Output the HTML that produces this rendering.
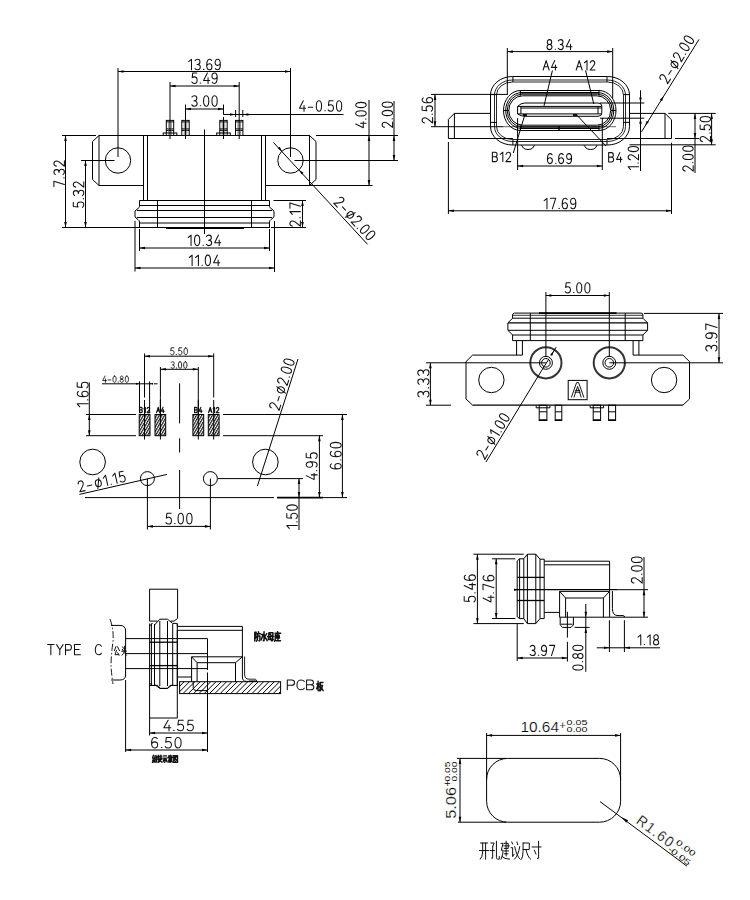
<!DOCTYPE html>
<html><head><meta charset="utf-8"><style>
html,body{margin:0;padding:0;background:#fff;width:750px;height:900px;overflow:hidden}
svg{display:block} .t path{vector-effect:non-scaling-stroke;stroke-linecap:round;stroke-linejoin:round}
</style></head><body>
<svg width="750" height="900" viewBox="0 0 750 900" fill="none" stroke="#000" stroke-width="1" stroke-linecap="butt" font-family="Liberation Sans, sans-serif">
<rect x="0" y="0" width="750" height="900" fill="#fff" stroke="none"/>
<line x1="62" y1="135.5" x2="96" y2="135.5"/>
<line x1="99" y1="135.5" x2="309.5" y2="135.5"/>
<line x1="316" y1="135.5" x2="398" y2="135.5"/>
<path d="M99,135.5 L92.5,141.5 L92.5,179.5 L99,185.5 L143.5,185.5"/>
<line x1="99" y1="135.5" x2="99" y2="185.5"/>
<path d="M309.5,135.5 L316,141.5 L316,179.5 L309.5,185.5 L265.5,185.5"/>
<line x1="309.5" y1="135.5" x2="309.5" y2="185.5"/>
<line x1="309.5" y1="185.5" x2="372.5" y2="185.5"/>
<line x1="143.5" y1="135.5" x2="143.5" y2="200.5"/>
<line x1="147.5" y1="135.5" x2="147.5" y2="200.5"/>
<line x1="261.5" y1="135.5" x2="261.5" y2="200.5"/>
<line x1="265.5" y1="135.5" x2="265.5" y2="200.5"/>
<circle cx="118" cy="160.5" r="12.7"/>
<circle cx="290.5" cy="160.5" r="12.7"/>
<line x1="118" y1="68" x2="118" y2="157"/>
<line x1="81" y1="160.5" x2="114.5" y2="160.5"/>
<line x1="290.5" y1="68" x2="290.5" y2="157"/>
<line x1="294.5" y1="160.5" x2="398" y2="160.5"/>
<line x1="204.5" y1="129.5" x2="204.5" y2="234"/>
<line x1="139.5" y1="200.5" x2="269.5" y2="200.5"/>
<path d="M139.5,200.5 V206.5 Q139.5,207.5 138,208.5 L136,210 Q135,211 135,212 V216 Q135,217 136,218 L138,219.5 Q139.5,220.5 139.5,222 V228"/>
<path d="M269.5,200.5 V206.5 Q269.5,207.5 271,208.5 L273,210 Q274,211 274,212 V216 Q274,217 273,218 L271,219.5 Q269.5,220.5 269.5,222 V228"/>
<line x1="139.5" y1="205.5" x2="269.5" y2="205.5"/>
<line x1="137" y1="210.5" x2="272" y2="210.5"/>
<line x1="137" y1="217.5" x2="272" y2="217.5"/>
<line x1="139.5" y1="223" x2="269.5" y2="223"/>
<line x1="139.5" y1="227.5" x2="269.5" y2="227.5"/>
<line x1="157.5" y1="200.5" x2="157.5" y2="228"/>
<line x1="251.5" y1="200.5" x2="251.5" y2="228"/>
<line x1="166" y1="228" x2="244" y2="228" stroke-width="2"/>
<line x1="62" y1="227.5" x2="139.5" y2="227.5"/>
<rect x="166.3" y="120.4" width="7.4" height="15.1"/>
<line x1="166.3" y1="121.9" x2="173.7" y2="121.9"/>
<line x1="166.3" y1="128.9" x2="173.7" y2="128.9"/>
<line x1="166.3" y1="130.4" x2="173.7" y2="130.4"/>
<line x1="168.75" y1="120.4" x2="168.75" y2="135.5" stroke-width="0.7" stroke="#555"/>
<line x1="171.25" y1="120.4" x2="171.25" y2="135.5" stroke-width="0.7" stroke="#555"/>
<rect x="163.2" y="133" width="13.6" height="2.5"/>
<line x1="170" y1="117" x2="170" y2="139"/>
<rect x="181.8" y="120.4" width="7.4" height="15.1"/>
<line x1="181.8" y1="121.9" x2="189.2" y2="121.9"/>
<line x1="181.8" y1="128.9" x2="189.2" y2="128.9"/>
<line x1="181.8" y1="130.4" x2="189.2" y2="130.4"/>
<line x1="184.25" y1="120.4" x2="184.25" y2="135.5" stroke-width="0.7" stroke="#555"/>
<line x1="186.75" y1="120.4" x2="186.75" y2="135.5" stroke-width="0.7" stroke="#555"/>
<line x1="185.5" y1="117" x2="185.5" y2="139"/>
<rect x="219.8" y="120.4" width="7.4" height="15.1"/>
<line x1="219.8" y1="121.9" x2="227.2" y2="121.9"/>
<line x1="219.8" y1="128.9" x2="227.2" y2="128.9"/>
<line x1="219.8" y1="130.4" x2="227.2" y2="130.4"/>
<line x1="222.25" y1="120.4" x2="222.25" y2="135.5" stroke-width="0.7" stroke="#555"/>
<line x1="224.75" y1="120.4" x2="224.75" y2="135.5" stroke-width="0.7" stroke="#555"/>
<rect x="216.7" y="133" width="13.6" height="2.5"/>
<line x1="223.5" y1="117" x2="223.5" y2="139"/>
<rect x="235.5" y="120.4" width="7.4" height="15.1"/>
<line x1="235.5" y1="121.9" x2="242.9" y2="121.9"/>
<line x1="235.5" y1="128.9" x2="242.9" y2="128.9"/>
<line x1="235.5" y1="130.4" x2="242.9" y2="130.4"/>
<line x1="237.95" y1="120.4" x2="237.95" y2="135.5" stroke-width="0.7" stroke="#555"/>
<line x1="240.45" y1="120.4" x2="240.45" y2="135.5" stroke-width="0.7" stroke="#555"/>
<line x1="239.2" y1="117" x2="239.2" y2="139"/>
<line x1="118" y1="71.5" x2="290.5" y2="71.5"/>
<path d="M118,71.5 L123.5,70.2 L123.5,72.8Z" fill="#000" stroke="none"/>
<path d="M290.5,71.5 L285,72.8 L285,70.2Z" fill="#000" stroke="none"/>
<g transform="translate(204.5,69.8) rotate(0) translate(-15.86,-10.5) scale(1.05,1.05)" stroke-width="1.05" stroke="#111" fill="none" class="t"><path transform="translate(0,0)" d="M0,2.3 L2.7,0 V10"/><path transform="translate(6,0)" d="M0.1,1.3 C0.6,0.4 1.5,0 2.5,0 C4,0 4.8,1.1 4.8,2.5 C4.8,4 3.9,4.9 2.1,4.9 C4.1,4.9 5.1,6 5.1,7.4 C5.1,9 4,10 2.5,10 C1.4,10 0.6,9.6 0,8.7"/><path transform="translate(14,0)" d="M0.1,9.6 L0.5,9.6"/><path transform="translate(17.2,0)" d="M4.7,1.1 C4.2,0.3 3.5,0 2.7,0 C0.8,0 0,2.4 0,5.4 C0,8.6 0.9,10 2.5,10 C4.2,10 5,8.6 5,7 C5,5.3 4.1,4.2 2.6,4.2 C1.2,4.2 0.3,5.1 0,6.4"/><path transform="translate(25.2,0)" d="M0.3,8.9 C0.8,9.7 1.5,10 2.3,10 C4.2,10 5,7.6 5,4.6 C5,1.4 4.1,0 2.5,0 C0.8,0 0,1.4 0,3 C0,4.7 0.9,5.8 2.4,5.8 C3.8,5.8 4.7,4.9 5,3.6"/></g>
<line x1="170" y1="82" x2="170" y2="117"/>
<line x1="239.2" y1="82" x2="239.2" y2="117"/>
<line x1="170" y1="86" x2="239.2" y2="86"/>
<path d="M170,86 L175.5,84.7 L175.5,87.3Z" fill="#000" stroke="none"/>
<path d="M239.2,86 L233.7,87.3 L233.7,84.7Z" fill="#000" stroke="none"/>
<g transform="translate(204.5,83.4) rotate(0) translate(-12.71,-10.5) scale(1.05,1.05)" stroke-width="1.05" stroke="#111" fill="none" class="t"><path transform="translate(0,0)" d="M4.8,0 H0.9 L0.4,4.6 C0.9,4.1 1.7,3.8 2.5,3.8 C4.2,3.8 5.1,5.2 5.1,6.9 C5.1,8.8 4,10 2.5,10 C1.4,10 0.6,9.6 0,8.7"/><path transform="translate(8,0)" d="M0.1,9.6 L0.5,9.6"/><path transform="translate(11.2,0)" d="M3.6,0 L0,7.2 H5.8 M4.3,4.6 V10"/><path transform="translate(19.2,0)" d="M0.3,8.9 C0.8,9.7 1.5,10 2.3,10 C4.2,10 5,7.6 5,4.6 C5,1.4 4.1,0 2.5,0 C0.8,0 0,1.4 0,3 C0,4.7 0.9,5.8 2.4,5.8 C3.8,5.8 4.7,4.9 5,3.6"/></g>
<line x1="185.5" y1="104.5" x2="185.5" y2="117"/>
<line x1="223.5" y1="104.5" x2="223.5" y2="114.5"/>
<line x1="185.5" y1="109" x2="223.5" y2="109"/>
<path d="M185.5,109 L191,107.7 L191,110.3Z" fill="#000" stroke="none"/>
<path d="M223.5,109 L218,110.3 L218,107.7Z" fill="#000" stroke="none"/>
<g transform="translate(204.5,106.2) rotate(0) translate(-12.71,-10.5) scale(1.05,1.05)" stroke-width="1.05" stroke="#111" fill="none" class="t"><path transform="translate(0,0)" d="M0.1,1.3 C0.6,0.4 1.5,0 2.5,0 C4,0 4.8,1.1 4.8,2.5 C4.8,4 3.9,4.9 2.1,4.9 C4.1,4.9 5.1,6 5.1,7.4 C5.1,9 4,10 2.5,10 C1.4,10 0.6,9.6 0,8.7"/><path transform="translate(8,0)" d="M0.1,9.6 L0.5,9.6"/><path transform="translate(11.2,0)" d="M2.5,0 C0.5,0 0,2.6 0,5 C0,7.4 0.5,10 2.5,10 C4.5,10 5,7.4 5,5 C5,2.6 4.5,0 2.5,0Z"/><path transform="translate(19.2,0)" d="M2.5,0 C0.5,0 0,2.6 0,5 C0,7.4 0.5,10 2.5,10 C4.5,10 5,7.4 5,5 C5,2.6 4.5,0 2.5,0Z"/></g>
<line x1="223.5" y1="114.5" x2="343.5" y2="114.5"/>
<path d="M235.6,114.5 L230.1,115.8 L230.1,113.2Z" fill="#000" stroke="none"/>
<path d="M242.8,114.5 L248.3,113.2 L248.3,115.8Z" fill="#000" stroke="none"/>
<line x1="235.6" y1="110" x2="235.6" y2="117"/>
<line x1="242.8" y1="110" x2="242.8" y2="117"/>
<g transform="translate(299.5,111.2) rotate(0) translate(0,-10.5) scale(1.05,1.05)" stroke-width="1.05" stroke="#111" fill="none" class="t"><path transform="translate(0,0)" d="M3.6,0 L0,7.2 H5.8 M4.3,4.6 V10"/><path transform="translate(8,0)" d="M0.3,6.2 H4.6"/><path transform="translate(16,0)" d="M2.5,0 C0.5,0 0,2.6 0,5 C0,7.4 0.5,10 2.5,10 C4.5,10 5,7.4 5,5 C5,2.6 4.5,0 2.5,0Z"/><path transform="translate(24,0)" d="M0.1,9.6 L0.5,9.6"/><path transform="translate(27.2,0)" d="M4.8,0 H0.9 L0.4,4.6 C0.9,4.1 1.7,3.8 2.5,3.8 C4.2,3.8 5.1,5.2 5.1,6.9 C5.1,8.8 4,10 2.5,10 C1.4,10 0.6,9.6 0,8.7"/><path transform="translate(35.2,0)" d="M2.5,0 C0.5,0 0,2.6 0,5 C0,7.4 0.5,10 2.5,10 C4.5,10 5,7.4 5,5 C5,2.6 4.5,0 2.5,0Z"/></g>
<line x1="369" y1="100" x2="369" y2="185.5"/>
<path d="M369,135.5 L370.3,141 L367.7,141Z" fill="#000" stroke="none"/>
<path d="M369,185.5 L367.7,180 L370.3,180Z" fill="#000" stroke="none"/>
<g transform="translate(366.2,127.8) rotate(-90) translate(0,-10.5) scale(1.05,1.05)" stroke-width="1.05" stroke="#111" fill="none" class="t"><path transform="translate(0,0)" d="M3.6,0 L0,7.2 H5.8 M4.3,4.6 V10"/><path transform="translate(8,0)" d="M0.1,9.6 L0.5,9.6"/><path transform="translate(11.2,0)" d="M2.5,0 C0.5,0 0,2.6 0,5 C0,7.4 0.5,10 2.5,10 C4.5,10 5,7.4 5,5 C5,2.6 4.5,0 2.5,0Z"/><path transform="translate(19.2,0)" d="M2.5,0 C0.5,0 0,2.6 0,5 C0,7.4 0.5,10 2.5,10 C4.5,10 5,7.4 5,5 C5,2.6 4.5,0 2.5,0Z"/></g>
<line x1="394" y1="101" x2="394" y2="160.5"/>
<path d="M394,135.5 L395.3,141 L392.7,141Z" fill="#000" stroke="none"/>
<path d="M394,160.5 L392.7,155 L395.3,155Z" fill="#000" stroke="none"/>
<g transform="translate(392.6,127.4) rotate(-90) translate(0,-10.5) scale(1.05,1.05)" stroke-width="1.05" stroke="#111" fill="none" class="t"><path transform="translate(0,0)" d="M0.1,2.3 C0.4,0.8 1.3,0 2.6,0 C4.1,0 5,1.1 5,2.6 C5,4.3 3.9,5.6 0,10 H5.2"/><path transform="translate(8,0)" d="M0.1,9.6 L0.5,9.6"/><path transform="translate(11.2,0)" d="M2.5,0 C0.5,0 0,2.6 0,5 C0,7.4 0.5,10 2.5,10 C4.5,10 5,7.4 5,5 C5,2.6 4.5,0 2.5,0Z"/><path transform="translate(19.2,0)" d="M2.5,0 C0.5,0 0,2.6 0,5 C0,7.4 0.5,10 2.5,10 C4.5,10 5,7.4 5,5 C5,2.6 4.5,0 2.5,0Z"/></g>
<line x1="65.5" y1="135.5" x2="65.5" y2="227.5"/>
<path d="M65.5,135.5 L66.8,141 L64.2,141Z" fill="#000" stroke="none"/>
<path d="M65.5,227.5 L64.2,222 L66.8,222Z" fill="#000" stroke="none"/>
<g transform="translate(64.4,186.4) rotate(-90) translate(0,-10.5) scale(1.05,1.05)" stroke-width="1.05" stroke="#111" fill="none" class="t"><path transform="translate(0,0)" d="M0,0 H5 L1.8,10"/><path transform="translate(8,0)" d="M0.1,9.6 L0.5,9.6"/><path transform="translate(11.2,0)" d="M0.1,1.3 C0.6,0.4 1.5,0 2.5,0 C4,0 4.8,1.1 4.8,2.5 C4.8,4 3.9,4.9 2.1,4.9 C4.1,4.9 5.1,6 5.1,7.4 C5.1,9 4,10 2.5,10 C1.4,10 0.6,9.6 0,8.7"/><path transform="translate(19.2,0)" d="M0.1,2.3 C0.4,0.8 1.3,0 2.6,0 C4.1,0 5,1.1 5,2.6 C5,4.3 3.9,5.6 0,10 H5.2"/></g>
<line x1="85.5" y1="160.5" x2="85.5" y2="227.5"/>
<path d="M85.5,160.5 L86.8,166 L84.2,166Z" fill="#000" stroke="none"/>
<path d="M85.5,227.5 L84.2,222 L86.8,222Z" fill="#000" stroke="none"/>
<g transform="translate(83.8,207.4) rotate(-90) translate(0,-10.5) scale(1.05,1.05)" stroke-width="1.05" stroke="#111" fill="none" class="t"><path transform="translate(0,0)" d="M4.8,0 H0.9 L0.4,4.6 C0.9,4.1 1.7,3.8 2.5,3.8 C4.2,3.8 5.1,5.2 5.1,6.9 C5.1,8.8 4,10 2.5,10 C1.4,10 0.6,9.6 0,8.7"/><path transform="translate(8,0)" d="M0.1,9.6 L0.5,9.6"/><path transform="translate(11.2,0)" d="M0.1,1.3 C0.6,0.4 1.5,0 2.5,0 C4,0 4.8,1.1 4.8,2.5 C4.8,4 3.9,4.9 2.1,4.9 C4.1,4.9 5.1,6 5.1,7.4 C5.1,9 4,10 2.5,10 C1.4,10 0.6,9.6 0,8.7"/><path transform="translate(19.2,0)" d="M0.1,2.3 C0.4,0.8 1.3,0 2.6,0 C4.1,0 5,1.1 5,2.6 C5,4.3 3.9,5.6 0,10 H5.2"/></g>
<line x1="273.5" y1="200.5" x2="306" y2="200.5"/>
<line x1="271" y1="227.5" x2="306" y2="227.5"/>
<line x1="302.5" y1="200.5" x2="302.5" y2="227.5"/>
<path d="M302.5,200.5 L303.8,206 L301.2,206Z" fill="#000" stroke="none"/>
<path d="M302.5,227.5 L301.2,222 L303.8,222Z" fill="#000" stroke="none"/>
<g transform="translate(300.4,226.2) rotate(-90) translate(0,-10.5) scale(1.05,1.05)" stroke-width="1.05" stroke="#111" fill="none" class="t"><path transform="translate(0,0)" d="M0.1,2.3 C0.4,0.8 1.3,0 2.6,0 C4.1,0 5,1.1 5,2.6 C5,4.3 3.9,5.6 0,10 H5.2"/><path transform="translate(8,0)" d="M0.1,9.6 L0.5,9.6"/><path transform="translate(11.2,0)" d="M0,2.3 L2.7,0 V10"/><path transform="translate(17.2,0)" d="M0,0 H5 L1.8,10"/></g>
<line x1="139.5" y1="229" x2="139.5" y2="251"/>
<line x1="269.5" y1="229" x2="269.5" y2="251"/>
<line x1="139.5" y1="248" x2="269.5" y2="248"/>
<path d="M139.5,248 L145,246.7 L145,249.3Z" fill="#000" stroke="none"/>
<path d="M269.5,248 L264,249.3 L264,246.7Z" fill="#000" stroke="none"/>
<g transform="translate(204.5,245.6) rotate(0) translate(-16.28,-10.5) scale(1.05,1.05)" stroke-width="1.05" stroke="#111" fill="none" class="t"><path transform="translate(0,0)" d="M0,2.3 L2.7,0 V10"/><path transform="translate(6,0)" d="M2.5,0 C0.5,0 0,2.6 0,5 C0,7.4 0.5,10 2.5,10 C4.5,10 5,7.4 5,5 C5,2.6 4.5,0 2.5,0Z"/><path transform="translate(14,0)" d="M0.1,9.6 L0.5,9.6"/><path transform="translate(17.2,0)" d="M0.1,1.3 C0.6,0.4 1.5,0 2.5,0 C4,0 4.8,1.1 4.8,2.5 C4.8,4 3.9,4.9 2.1,4.9 C4.1,4.9 5.1,6 5.1,7.4 C5.1,9 4,10 2.5,10 C1.4,10 0.6,9.6 0,8.7"/><path transform="translate(25.2,0)" d="M3.6,0 L0,7.2 H5.8 M4.3,4.6 V10"/></g>
<line x1="135" y1="221" x2="135" y2="271.5"/>
<line x1="274.5" y1="221" x2="274.5" y2="272"/>
<line x1="135" y1="268" x2="274.5" y2="268"/>
<path d="M135,268 L140.5,266.7 L140.5,269.3Z" fill="#000" stroke="none"/>
<path d="M274.5,268 L269,269.3 L269,266.7Z" fill="#000" stroke="none"/>
<g transform="translate(204.5,265.6) rotate(0) translate(-15.23,-10.5) scale(1.05,1.05)" stroke-width="1.05" stroke="#111" fill="none" class="t"><path transform="translate(0,0)" d="M0,2.3 L2.7,0 V10"/><path transform="translate(6,0)" d="M0,2.3 L2.7,0 V10"/><path transform="translate(12,0)" d="M0.1,9.6 L0.5,9.6"/><path transform="translate(15.2,0)" d="M2.5,0 C0.5,0 0,2.6 0,5 C0,7.4 0.5,10 2.5,10 C4.5,10 5,7.4 5,5 C5,2.6 4.5,0 2.5,0Z"/><path transform="translate(23.2,0)" d="M3.6,0 L0,7.2 H5.8 M4.3,4.6 V10"/></g>
<line x1="273.4" y1="142.4" x2="367.6" y2="244.4"/>
<path d="M282.2,151.4 L277.85,148.61 L279.76,146.84Z" fill="#000" stroke="none"/>
<path d="M299.2,170 L303.55,172.79 L301.64,174.56Z" fill="#000" stroke="none"/>
<g transform="translate(333.61,203.17) rotate(47.28) translate(0,-10.5) scale(1.05,1.05)" stroke-width="1.05" stroke="#111" fill="none" class="t"><path transform="translate(0,0)" d="M0.1,2.3 C0.4,0.8 1.3,0 2.6,0 C4.1,0 5,1.1 5,2.6 C5,4.3 3.9,5.6 0,10 H5.2"/><path transform="translate(8,0)" d="M0.3,6.2 H4.6"/><path transform="translate(16,0)" d="M3,2.5 C1.2,2.5 0.2,4 0.2,5.9 C0.2,7.8 1.2,9.2 3,9.2 C4.8,9.2 5.8,7.8 5.8,5.9 C5.8,4 4.8,2.5 3,2.5Z M4.6,1 L1.4,10.8"/><path transform="translate(24.6,0)" d="M0.1,2.3 C0.4,0.8 1.3,0 2.6,0 C4.1,0 5,1.1 5,2.6 C5,4.3 3.9,5.6 0,10 H5.2"/><path transform="translate(32.6,0)" d="M0.1,9.6 L0.5,9.6"/><path transform="translate(35.8,0)" d="M2.5,0 C0.5,0 0,2.6 0,5 C0,7.4 0.5,10 2.5,10 C4.5,10 5,7.4 5,5 C5,2.6 4.5,0 2.5,0Z"/><path transform="translate(43.8,0)" d="M2.5,0 C0.5,0 0,2.6 0,5 C0,7.4 0.5,10 2.5,10 C4.5,10 5,7.4 5,5 C5,2.6 4.5,0 2.5,0Z"/></g>
<path d="M512.5,76.5 H607.5 A22,18.5 0 0 1 629.5,95 V126.5 A22,18.5 0 0 1 607.5,145 H512.5 A22,18.5 0 0 1 490.5,126.5 V95 A22,18.5 0 0 1 512.5,76.5Z"/>
<path d="M512.5,80 H607.5 A18,15 0 0 1 625.5,95 V126.5 A18,15 0 0 1 607.5,141.5 H512.5 A18,15 0 0 1 494.5,126.5 V95 A18,15 0 0 1 512.5,80Z" stroke-width="0.85"/>
<path d="M512.5,82 H607.5 A16,13 0 0 1 623.5,95 V126.5 A16,13 0 0 1 607.5,139.5 H512.5 A16,13 0 0 1 496.5,126.5 V95 A16,13 0 0 1 512.5,82Z" stroke-width="0.85"/>
<line x1="512.9" y1="76.5" x2="512.9" y2="82"/>
<line x1="512.9" y1="139.5" x2="512.9" y2="145"/>
<line x1="607" y1="76.5" x2="607" y2="82"/>
<line x1="607" y1="139.5" x2="607" y2="145"/>
<line x1="490.5" y1="94.6" x2="496.5" y2="94.6"/>
<line x1="623.5" y1="94.6" x2="629.5" y2="94.6"/>
<line x1="490.5" y1="122.4" x2="496.5" y2="122.4"/>
<line x1="623.5" y1="122.4" x2="629.5" y2="122.4"/>
<path d="M520.5,90.5 H599 A17,20 0 0 1 616,110.5 V110.5 A17,20 0 0 1 599,130.5 H520.5 A17,20 0 0 1 503.5,110.5 V110.5 A17,20 0 0 1 520.5,90.5Z"/>
<path d="M521.38,92.7 H598.12 A15.68,17.8 0 0 1 613.8,110.5 V110.5 A15.68,17.8 0 0 1 598.12,128.3 H521.38 A15.68,17.8 0 0 1 505.7,110.5 V110.5 A15.68,17.8 0 0 1 521.38,92.7Z"/>
<path d="M521.98,94.2 H597.52 A14.78,16.3 0 0 1 612.3,110.5 V110.5 A14.78,16.3 0 0 1 597.52,126.8 H521.98 A14.78,16.3 0 0 1 507.2,110.5 V110.5 A14.78,16.3 0 0 1 521.98,94.2Z"/>
<path d="M522.62,95.8 H596.88 A13.82,14.7 0 0 1 610.7,110.5 V110.5 A13.82,14.7 0 0 1 596.88,125.2 H522.62 A13.82,14.7 0 0 1 508.8,110.5 V110.5 A13.82,14.7 0 0 1 522.62,95.8Z"/>
<line x1="520.4" y1="90.5" x2="520.4" y2="95.8"/>
<line x1="520.4" y1="125.2" x2="520.4" y2="130.5"/>
<line x1="599" y1="90.5" x2="599" y2="95.8"/>
<line x1="599" y1="125.2" x2="599" y2="130.5"/>
<line x1="611" y1="110.5" x2="616" y2="110.5"/>
<line x1="503.5" y1="110.5" x2="508.8" y2="110.5"/>
<line x1="520.4" y1="92.7" x2="599" y2="92.7" stroke-width="1.4"/>
<line x1="520.4" y1="128.3" x2="599" y2="128.3" stroke-width="1.4"/>
<line x1="559" y1="126" x2="559" y2="130" stroke-width="1.5"/>
<path d="M524.7,103 H598 Q601.8,103 601.8,106 V113 Q601.8,116.3 598,116.3 H524.7 Q521,116.3 517.6,113.9 V106.4 Q521,103 524.7,103Z"/>
<line x1="517.6" y1="106.4" x2="601.8" y2="106.4"/>
<line x1="520.9" y1="108" x2="601.8" y2="108"/>
<line x1="517.6" y1="113.9" x2="601.8" y2="113.9"/>
<line x1="520.9" y1="106.4" x2="520.9" y2="113.9"/>
<line x1="598" y1="106.4" x2="598" y2="113.9"/>
<line x1="522.8" y1="115" x2="527" y2="115" stroke-width="1.8"/>
<line x1="573" y1="115" x2="577.2" y2="115" stroke-width="1.8"/>
<path d="M490.5,113.4 L454.4,113.4 L448.4,119.4 L448.4,138.5 L512.9,138.5"/>
<line x1="454.4" y1="113.4" x2="454.4" y2="138.5"/>
<path d="M629.5,113.4 L665,113.4 L671.5,119.7 L671.5,138.5 L607,138.5"/>
<line x1="665" y1="113.4" x2="665" y2="138.5"/>
<path d="M521.4,145.2 L523.4,148 Q524.9,149.5 528,149.5 Q531.2,149.5 532.7,148 L534.6,145.2"/>
<path d="M584,145.2 L586,148 Q587.5,149.5 590.6,149.5 Q593.8,149.5 595.3,148 L597.2,145.2"/>
<line x1="431" y1="94.4" x2="507.3" y2="94.4"/>
<line x1="431" y1="126.7" x2="503.5" y2="126.7"/>
<line x1="503.5" y1="126.7" x2="616" y2="126.7" stroke-width="0.6"/>
<line x1="435" y1="94.4" x2="435" y2="126.7"/>
<path d="M435,94.4 L436.3,99.9 L433.7,99.9Z" fill="#000" stroke="none"/>
<path d="M435,126.7 L433.7,121.2 L436.3,121.2Z" fill="#000" stroke="none"/>
<g transform="translate(432.6,123) rotate(-90) translate(0,-10.5) scale(1.05,1.05)" stroke-width="1.05" stroke="#111" fill="none" class="t"><path transform="translate(0,0)" d="M0.1,2.3 C0.4,0.8 1.3,0 2.6,0 C4.1,0 5,1.1 5,2.6 C5,4.3 3.9,5.6 0,10 H5.2"/><path transform="translate(8,0)" d="M0.1,9.6 L0.5,9.6"/><path transform="translate(11.2,0)" d="M4.8,0 H0.9 L0.4,4.6 C0.9,4.1 1.7,3.8 2.5,3.8 C4.2,3.8 5.1,5.2 5.1,6.9 C5.1,8.8 4,10 2.5,10 C1.4,10 0.6,9.6 0,8.7"/><path transform="translate(19.2,0)" d="M4.7,1.1 C4.2,0.3 3.5,0 2.7,0 C0.8,0 0,2.4 0,5.4 C0,8.6 0.9,10 2.5,10 C4.2,10 5,8.6 5,7 C5,5.3 4.1,4.2 2.6,4.2 C1.2,4.2 0.3,5.1 0,6.4"/></g>
<line x1="507.3" y1="48" x2="507.3" y2="95"/>
<line x1="612.7" y1="48" x2="612.7" y2="98"/>
<line x1="507.3" y1="51.6" x2="612.7" y2="51.6"/>
<path d="M507.3,51.6 L512.8,50.3 L512.8,52.9Z" fill="#000" stroke="none"/>
<path d="M612.7,51.6 L607.2,52.9 L607.2,50.3Z" fill="#000" stroke="none"/>
<g transform="translate(559.5,49.6) rotate(0) translate(-12.5,-10) scale(1,1)" stroke-width="1.05" stroke="#111" fill="none" class="t"><path transform="translate(0,0)" d="M2.5,4.9 C0.9,4.9 0.3,3.9 0.3,2.5 C0.3,1 1.2,0 2.5,0 C3.8,0 4.7,1 4.7,2.5 C4.7,3.9 4.1,4.9 2.5,4.9 C0.8,4.9 0,6 0,7.4 C0,9 1.1,10 2.5,10 C3.9,10 5,9 5,7.4 C5,6 4.2,4.9 2.5,4.9Z"/><path transform="translate(8,0)" d="M0.1,9.6 L0.5,9.6"/><path transform="translate(11.2,0)" d="M0.1,1.3 C0.6,0.4 1.5,0 2.5,0 C4,0 4.8,1.1 4.8,2.5 C4.8,4 3.9,4.9 2.1,4.9 C4.1,4.9 5.1,6 5.1,7.4 C5.1,9 4,10 2.5,10 C1.4,10 0.6,9.6 0,8.7"/><path transform="translate(19.2,0)" d="M3.6,0 L0,7.2 H5.8 M4.3,4.6 V10"/></g>
<g transform="translate(550,70) rotate(0) translate(-6.86,-9.4) scale(0.94,0.94)" stroke-width="1.05" stroke="#111" fill="none" class="t"><path transform="translate(0,0)" d="M0,10 L3.2,0 L6.4,10 M1.1,6.6 H5.3"/><path transform="translate(8.8,0)" d="M3.6,0 L0,7.2 H5.8 M4.3,4.6 V10"/></g>
<line x1="552.4" y1="70.5" x2="544" y2="105.9"/>
<g transform="translate(585.5,70) rotate(0) translate(-9.31,-9.4) scale(0.94,0.94)" stroke-width="1.05" stroke="#111" fill="none" class="t"><path transform="translate(0,0)" d="M0,10 L3.2,0 L6.4,10 M1.1,6.6 H5.3"/><path transform="translate(8.8,0)" d="M0,2.3 L2.7,0 V10"/><path transform="translate(14.8,0)" d="M0.1,2.3 C0.4,0.8 1.3,0 2.6,0 C4.1,0 5,1.1 5,2.6 C5,4.3 3.9,5.6 0,10 H5.2"/></g>
<line x1="585.6" y1="70.5" x2="593.8" y2="104"/>
<g transform="translate(501.5,161.6) rotate(0) translate(-9.12,-9.4) scale(0.94,0.94)" stroke-width="1.05" stroke="#111" fill="none" class="t"><path transform="translate(0,0)" d="M0,10 V0 H3 C4.4,0 5,1.1 5,2.5 C5,3.9 4.4,4.8 3,4.8 H0 M3,4.8 C4.6,4.8 5.3,5.9 5.3,7.4 C5.3,9 4.5,10 3,10 H0"/><path transform="translate(8.4,0)" d="M0,2.3 L2.7,0 V10"/><path transform="translate(14.4,0)" d="M0.1,2.3 C0.4,0.8 1.3,0 2.6,0 C4.1,0 5,1.1 5,2.6 C5,4.3 3.9,5.6 0,10 H5.2"/></g>
<line x1="524.7" y1="115.3" x2="513.3" y2="153"/>
<g transform="translate(615.3,162) rotate(0) translate(-6.67,-9.4) scale(0.94,0.94)" stroke-width="1.05" stroke="#111" fill="none" class="t"><path transform="translate(0,0)" d="M0,10 V0 H3 C4.4,0 5,1.1 5,2.5 C5,3.9 4.4,4.8 3,4.8 H0 M3,4.8 C4.6,4.8 5.3,5.9 5.3,7.4 C5.3,9 4.5,10 3,10 H0"/><path transform="translate(8.4,0)" d="M3.6,0 L0,7.2 H5.8 M4.3,4.6 V10"/></g>
<line x1="577" y1="115.3" x2="606" y2="146"/>
<line x1="517.6" y1="118.2" x2="517.6" y2="170"/>
<line x1="602.3" y1="118" x2="602.3" y2="170"/>
<line x1="517.6" y1="166" x2="602.3" y2="166"/>
<path d="M517.6,166 L523.1,164.7 L523.1,167.3Z" fill="#000" stroke="none"/>
<path d="M602.3,166 L596.8,167.3 L596.8,164.7Z" fill="#000" stroke="none"/>
<g transform="translate(559.5,163.6) rotate(0) translate(-12.1,-10) scale(1,1)" stroke-width="1.05" stroke="#111" fill="none" class="t"><path transform="translate(0,0)" d="M4.7,1.1 C4.2,0.3 3.5,0 2.7,0 C0.8,0 0,2.4 0,5.4 C0,8.6 0.9,10 2.5,10 C4.2,10 5,8.6 5,7 C5,5.3 4.1,4.2 2.6,4.2 C1.2,4.2 0.3,5.1 0,6.4"/><path transform="translate(8,0)" d="M0.1,9.6 L0.5,9.6"/><path transform="translate(11.2,0)" d="M4.7,1.1 C4.2,0.3 3.5,0 2.7,0 C0.8,0 0,2.4 0,5.4 C0,8.6 0.9,10 2.5,10 C4.2,10 5,8.6 5,7 C5,5.3 4.1,4.2 2.6,4.2 C1.2,4.2 0.3,5.1 0,6.4"/><path transform="translate(19.2,0)" d="M0.3,8.9 C0.8,9.7 1.5,10 2.3,10 C4.2,10 5,7.6 5,4.6 C5,1.4 4.1,0 2.5,0 C0.8,0 0,1.4 0,3 C0,4.7 0.9,5.8 2.4,5.8 C3.8,5.8 4.7,4.9 5,3.6"/></g>
<line x1="448.4" y1="142" x2="448.4" y2="214"/>
<line x1="671.5" y1="142.7" x2="671.5" y2="214"/>
<line x1="448.4" y1="210.8" x2="671.5" y2="210.8"/>
<path d="M448.4,210.8 L453.9,209.5 L453.9,212.1Z" fill="#000" stroke="none"/>
<path d="M671.5,210.8 L666,212.1 L666,209.5Z" fill="#000" stroke="none"/>
<g transform="translate(560,208.8) rotate(0) translate(-15.86,-10.5) scale(1.05,1.05)" stroke-width="1.05" stroke="#111" fill="none" class="t"><path transform="translate(0,0)" d="M0,2.3 L2.7,0 V10"/><path transform="translate(6,0)" d="M0,0 H5 L1.8,10"/><path transform="translate(14,0)" d="M0.1,9.6 L0.5,9.6"/><path transform="translate(17.2,0)" d="M4.7,1.1 C4.2,0.3 3.5,0 2.7,0 C0.8,0 0,2.4 0,5.4 C0,8.6 0.9,10 2.5,10 C4.2,10 5,8.6 5,7 C5,5.3 4.1,4.2 2.6,4.2 C1.2,4.2 0.3,5.1 0,6.4"/><path transform="translate(25.2,0)" d="M0.3,8.9 C0.8,9.7 1.5,10 2.3,10 C4.2,10 5,7.6 5,4.6 C5,1.4 4.1,0 2.5,0 C0.8,0 0,1.4 0,3 C0,4.7 0.9,5.8 2.4,5.8 C3.8,5.8 4.7,4.9 5,3.6"/></g>
<line x1="600" y1="103" x2="644.3" y2="103"/>
<line x1="600" y1="118.2" x2="644.3" y2="118.2"/>
<line x1="640.5" y1="90.3" x2="640.5" y2="171"/>
<path d="M640.5,103 L639.2,97.5 L641.8,97.5Z" fill="#000" stroke="none"/>
<path d="M640.5,118.2 L641.8,123.7 L639.2,123.7Z" fill="#000" stroke="none"/>
<g transform="translate(638.5,169.5) rotate(-90) translate(0,-10.4) scale(1.04,1.04)" stroke-width="1.05" stroke="#111" fill="none" class="t"><path transform="translate(0,0)" d="M0,2.3 L2.7,0 V10"/><path transform="translate(6,0)" d="M0.1,9.6 L0.5,9.6"/><path transform="translate(9.2,0)" d="M0.1,2.3 C0.4,0.8 1.3,0 2.6,0 C4.1,0 5,1.1 5,2.6 C5,4.3 3.9,5.6 0,10 H5.2"/><path transform="translate(17.2,0)" d="M2.5,0 C0.5,0 0,2.6 0,5 C0,7.4 0.5,10 2.5,10 C4.5,10 5,7.4 5,5 C5,2.6 4.5,0 2.5,0Z"/></g>
<line x1="668.3" y1="113.4" x2="715.7" y2="113.4"/>
<line x1="629.5" y1="144.8" x2="715.7" y2="144.8"/>
<line x1="711.6" y1="113.4" x2="711.6" y2="144.8"/>
<path d="M711.6,113.4 L712.9,118.9 L710.3,118.9Z" fill="#000" stroke="none"/>
<path d="M711.6,144.8 L710.3,139.3 L712.9,139.3Z" fill="#000" stroke="none"/>
<g transform="translate(710.5,141.7) rotate(-90) translate(0,-10.4) scale(1.04,1.04)" stroke-width="1.05" stroke="#111" fill="none" class="t"><path transform="translate(0,0)" d="M0.1,2.3 C0.4,0.8 1.3,0 2.6,0 C4.1,0 5,1.1 5,2.6 C5,4.3 3.9,5.6 0,10 H5.2"/><path transform="translate(8,0)" d="M0.1,9.6 L0.5,9.6"/><path transform="translate(11.2,0)" d="M4.8,0 H0.9 L0.4,4.6 C0.9,4.1 1.7,3.8 2.5,3.8 C4.2,3.8 5.1,5.2 5.1,6.9 C5.1,8.8 4,10 2.5,10 C1.4,10 0.6,9.6 0,8.7"/><path transform="translate(19.2,0)" d="M2.5,0 C0.5,0 0,2.6 0,5 C0,7.4 0.5,10 2.5,10 C4.5,10 5,7.4 5,5 C5,2.6 4.5,0 2.5,0Z"/></g>
<line x1="675" y1="138.5" x2="699" y2="138.5"/>
<line x1="695" y1="113.4" x2="695" y2="173"/>
<path d="M695,113.4 L696.3,118.9 L693.7,118.9Z" fill="#000" stroke="none"/>
<path d="M695,138.5 L693.7,133 L696.3,133Z" fill="#000" stroke="none"/>
<g transform="translate(693.2,171.2) rotate(-90) translate(0,-10.4) scale(1.04,1.04)" stroke-width="1.05" stroke="#111" fill="none" class="t"><path transform="translate(0,0)" d="M0.1,2.3 C0.4,0.8 1.3,0 2.6,0 C4.1,0 5,1.1 5,2.6 C5,4.3 3.9,5.6 0,10 H5.2"/><path transform="translate(8,0)" d="M0.1,9.6 L0.5,9.6"/><path transform="translate(11.2,0)" d="M2.5,0 C0.5,0 0,2.6 0,5 C0,7.4 0.5,10 2.5,10 C4.5,10 5,7.4 5,5 C5,2.6 4.5,0 2.5,0Z"/><path transform="translate(19.2,0)" d="M2.5,0 C0.5,0 0,2.6 0,5 C0,7.4 0.5,10 2.5,10 C4.5,10 5,7.4 5,5 C5,2.6 4.5,0 2.5,0Z"/></g>
<line x1="699" y1="39.4" x2="641.5" y2="131.8"/>
<path d="M645.2,125.6 L646.74,120.67 L648.95,122.04Z" fill="#000" stroke="none"/>
<path d="M663.6,96.2 L662.06,101.13 L659.85,99.76Z" fill="#000" stroke="none"/>
<g transform="translate(667.62,83.77) rotate(-58.11) translate(0,-10.5) scale(1.05,1.05)" stroke-width="1.05" stroke="#111" fill="none" class="t"><path transform="translate(0,0)" d="M0.1,2.3 C0.4,0.8 1.3,0 2.6,0 C4.1,0 5,1.1 5,2.6 C5,4.3 3.9,5.6 0,10 H5.2"/><path transform="translate(8,0)" d="M0.3,6.2 H4.6"/><path transform="translate(16,0)" d="M3,2.5 C1.2,2.5 0.2,4 0.2,5.9 C0.2,7.8 1.2,9.2 3,9.2 C4.8,9.2 5.8,7.8 5.8,5.9 C5.8,4 4.8,2.5 3,2.5Z M4.6,1 L1.4,10.8"/><path transform="translate(24.6,0)" d="M0.1,2.3 C0.4,0.8 1.3,0 2.6,0 C4.1,0 5,1.1 5,2.6 C5,4.3 3.9,5.6 0,10 H5.2"/><path transform="translate(32.6,0)" d="M0.1,9.6 L0.5,9.6"/><path transform="translate(35.8,0)" d="M2.5,0 C0.5,0 0,2.6 0,5 C0,7.4 0.5,10 2.5,10 C4.5,10 5,7.4 5,5 C5,2.6 4.5,0 2.5,0Z"/><path transform="translate(43.8,0)" d="M2.5,0 C0.5,0 0,2.6 0,5 C0,7.4 0.5,10 2.5,10 C4.5,10 5,7.4 5,5 C5,2.6 4.5,0 2.5,0Z"/></g>
<defs><pattern id="hat" patternUnits="userSpaceOnUse" width="2.3" height="2.3" patternTransform="rotate(30)"><line x1="0.6" y1="0" x2="0.6" y2="2.3" stroke="#111" stroke-width="1.15"/></pattern><pattern id="hat2" patternUnits="userSpaceOnUse" width="5" height="5" patternTransform="rotate(45)"><line x1="0" y1="0" x2="0" y2="5" stroke="#111" stroke-width="0.9"/></pattern></defs>
<rect x="139.2" y="414.5" width="10.8" height="21.2" fill="url(#hat)" stroke="#000" stroke-width="1"/>
<line x1="144.5" y1="353.5" x2="144.5" y2="397.5"/>
<line x1="144.5" y1="400" x2="144.5" y2="439.5"/>
<g transform="translate(144.6,412.6) rotate(0) translate(-5.04,-5.2) scale(0.52,0.52)" stroke-width="1.2" stroke="#111" fill="none" class="t"><path transform="translate(0,0)" d="M0,10 V0 H3 C4.4,0 5,1.1 5,2.5 C5,3.9 4.4,4.8 3,4.8 H0 M3,4.8 C4.6,4.8 5.3,5.9 5.3,7.4 C5.3,9 4.5,10 3,10 H0"/><path transform="translate(8.4,0)" d="M0,2.3 L2.7,0 V10"/><path transform="translate(14.4,0)" d="M0.1,2.3 C0.4,0.8 1.3,0 2.6,0 C4.1,0 5,1.1 5,2.6 C5,4.3 3.9,5.6 0,10 H5.2"/></g>
<rect x="155" y="414.5" width="10.7" height="21.2" fill="url(#hat)" stroke="#000" stroke-width="1"/>
<line x1="160.4" y1="418" x2="160.4" y2="397.5"/>
<line x1="160.4" y1="400" x2="160.4" y2="439.5"/>
<g transform="translate(160.35,412.6) rotate(0) translate(-3.8,-5.2) scale(0.52,0.52)" stroke-width="1.2" stroke="#111" fill="none" class="t"><path transform="translate(0,0)" d="M0,10 L3.2,0 L6.4,10 M1.1,6.6 H5.3"/><path transform="translate(8.8,0)" d="M3.6,0 L0,7.2 H5.8 M4.3,4.6 V10"/></g>
<rect x="192.9" y="414.5" width="10.8" height="21.2" fill="url(#hat)" stroke="#000" stroke-width="1"/>
<line x1="198.3" y1="418" x2="198.3" y2="397.5"/>
<line x1="198.3" y1="400" x2="198.3" y2="439.5"/>
<g transform="translate(198.3,412.6) rotate(0) translate(-3.69,-5.2) scale(0.52,0.52)" stroke-width="1.2" stroke="#111" fill="none" class="t"><path transform="translate(0,0)" d="M0,10 V0 H3 C4.4,0 5,1.1 5,2.5 C5,3.9 4.4,4.8 3,4.8 H0 M3,4.8 C4.6,4.8 5.3,5.9 5.3,7.4 C5.3,9 4.5,10 3,10 H0"/><path transform="translate(8.4,0)" d="M3.6,0 L0,7.2 H5.8 M4.3,4.6 V10"/></g>
<rect x="208.3" y="414.5" width="10.8" height="21.2" fill="url(#hat)" stroke="#000" stroke-width="1"/>
<line x1="213.7" y1="353.5" x2="213.7" y2="397.5"/>
<line x1="213.7" y1="400" x2="213.7" y2="439.5"/>
<g transform="translate(213.7,412.6) rotate(0) translate(-5.15,-5.2) scale(0.52,0.52)" stroke-width="1.2" stroke="#111" fill="none" class="t"><path transform="translate(0,0)" d="M0,10 L3.2,0 L6.4,10 M1.1,6.6 H5.3"/><path transform="translate(8.8,0)" d="M0,2.3 L2.7,0 V10"/><path transform="translate(14.8,0)" d="M0.1,2.3 C0.4,0.8 1.3,0 2.6,0 C4.1,0 5,1.1 5,2.6 C5,4.3 3.9,5.6 0,10 H5.2"/></g>
<line x1="139.5" y1="381.4" x2="139.5" y2="413"/>
<line x1="149.6" y1="381.4" x2="149.6" y2="413"/>
<g transform="translate(102.7,382.4) rotate(0) translate(0,-6.4) scale(0.64,0.64)" stroke-width="0.85" stroke="#111" fill="none" class="t"><path transform="translate(0,0)" d="M3.6,0 L0,7.2 H5.8 M4.3,4.6 V10"/><path transform="translate(8,0)" d="M0.3,6.2 H4.6"/><path transform="translate(16,0)" d="M2.5,0 C0.5,0 0,2.6 0,5 C0,7.4 0.5,10 2.5,10 C4.5,10 5,7.4 5,5 C5,2.6 4.5,0 2.5,0Z"/><path transform="translate(24,0)" d="M0.1,9.6 L0.5,9.6"/><path transform="translate(27.2,0)" d="M2.5,4.9 C0.9,4.9 0.3,3.9 0.3,2.5 C0.3,1 1.2,0 2.5,0 C3.8,0 4.7,1 4.7,2.5 C4.7,3.9 4.1,4.9 2.5,4.9 C0.8,4.9 0,6 0,7.4 C0,9 1.1,10 2.5,10 C3.9,10 5,9 5,7.4 C5,6 4.2,4.9 2.5,4.9Z"/><path transform="translate(35.2,0)" d="M2.5,0 C0.5,0 0,2.6 0,5 C0,7.4 0.5,10 2.5,10 C4.5,10 5,7.4 5,5 C5,2.6 4.5,0 2.5,0Z"/></g>
<line x1="102" y1="383.8" x2="151" y2="383.8"/>
<line x1="154" y1="383.8" x2="157.5" y2="383.8"/>
<path d="M139.5,383.8 L136,384.8 L136,382.8Z" fill="#000" stroke="none"/>
<path d="M149.6,383.8 L153.1,382.8 L153.1,384.8Z" fill="#000" stroke="none"/>
<line x1="144.5" y1="356.2" x2="213.7" y2="356.2"/>
<path d="M144.5,356.2 L150,354.9 L150,357.5Z" fill="#000" stroke="none"/>
<path d="M213.7,356.2 L208.2,357.5 L208.2,354.9Z" fill="#000" stroke="none"/>
<g transform="translate(179,354.8) rotate(0) translate(-8.47,-7) scale(0.7,0.7)" stroke-width="0.9" stroke="#111" fill="none" class="t"><path transform="translate(0,0)" d="M4.8,0 H0.9 L0.4,4.6 C0.9,4.1 1.7,3.8 2.5,3.8 C4.2,3.8 5.1,5.2 5.1,6.9 C5.1,8.8 4,10 2.5,10 C1.4,10 0.6,9.6 0,8.7"/><path transform="translate(8,0)" d="M0.1,9.6 L0.5,9.6"/><path transform="translate(11.2,0)" d="M4.8,0 H0.9 L0.4,4.6 C0.9,4.1 1.7,3.8 2.5,3.8 C4.2,3.8 5.1,5.2 5.1,6.9 C5.1,8.8 4,10 2.5,10 C1.4,10 0.6,9.6 0,8.7"/><path transform="translate(19.2,0)" d="M2.5,0 C0.5,0 0,2.6 0,5 C0,7.4 0.5,10 2.5,10 C4.5,10 5,7.4 5,5 C5,2.6 4.5,0 2.5,0Z"/></g>
<line x1="160.4" y1="367" x2="160.4" y2="397.5"/>
<line x1="198.3" y1="367" x2="198.3" y2="397.5"/>
<line x1="160.4" y1="369.3" x2="198.3" y2="369.3"/>
<path d="M160.4,369.3 L165.9,368 L165.9,370.6Z" fill="#000" stroke="none"/>
<path d="M198.3,369.3 L192.8,370.6 L192.8,368Z" fill="#000" stroke="none"/>
<g transform="translate(179,368.3) rotate(0) translate(-7.99,-6.6) scale(0.66,0.66)" stroke-width="0.9" stroke="#111" fill="none" class="t"><path transform="translate(0,0)" d="M0.1,1.3 C0.6,0.4 1.5,0 2.5,0 C4,0 4.8,1.1 4.8,2.5 C4.8,4 3.9,4.9 2.1,4.9 C4.1,4.9 5.1,6 5.1,7.4 C5.1,9 4,10 2.5,10 C1.4,10 0.6,9.6 0,8.7"/><path transform="translate(8,0)" d="M0.1,9.6 L0.5,9.6"/><path transform="translate(11.2,0)" d="M2.5,0 C0.5,0 0,2.6 0,5 C0,7.4 0.5,10 2.5,10 C4.5,10 5,7.4 5,5 C5,2.6 4.5,0 2.5,0Z"/><path transform="translate(19.2,0)" d="M2.5,0 C0.5,0 0,2.6 0,5 C0,7.4 0.5,10 2.5,10 C4.5,10 5,7.4 5,5 C5,2.6 4.5,0 2.5,0Z"/></g>
<line x1="179.6" y1="383.3" x2="179.6" y2="423.4"/>
<line x1="179.6" y1="438.3" x2="179.6" y2="452.5"/>
<line x1="179.6" y1="470" x2="179.6" y2="509"/>
<line x1="86" y1="414.5" x2="136" y2="414.5"/>
<line x1="86" y1="435.7" x2="136" y2="435.7"/>
<line x1="223" y1="414.5" x2="347" y2="414.5"/>
<line x1="223" y1="435.7" x2="323" y2="435.7"/>
<line x1="89.3" y1="382.3" x2="89.3" y2="435.7"/>
<path d="M89.3,414.5 L90.6,420 L88,420Z" fill="#000" stroke="none"/>
<path d="M89.3,435.7 L88,430.2 L90.6,430.2Z" fill="#000" stroke="none"/>
<g transform="translate(88.2,406.8) rotate(-90) translate(0,-11) scale(1.1,1.1)" stroke-width="1.05" stroke="#111" fill="none" class="t"><path transform="translate(0,0)" d="M0,2.3 L2.7,0 V10"/><path transform="translate(6,0)" d="M0.1,9.6 L0.5,9.6"/><path transform="translate(9.2,0)" d="M4.7,1.1 C4.2,0.3 3.5,0 2.7,0 C0.8,0 0,2.4 0,5.4 C0,8.6 0.9,10 2.5,10 C4.2,10 5,8.6 5,7 C5,5.3 4.1,4.2 2.6,4.2 C1.2,4.2 0.3,5.1 0,6.4"/><path transform="translate(17.2,0)" d="M4.8,0 H0.9 L0.4,4.6 C0.9,4.1 1.7,3.8 2.5,3.8 C4.2,3.8 5.1,5.2 5.1,6.9 C5.1,8.8 4,10 2.5,10 C1.4,10 0.6,9.6 0,8.7"/></g>
<circle cx="92.6" cy="462" r="12.8"/>
<circle cx="265.4" cy="462" r="12.8"/>
<circle cx="147.4" cy="478.6" r="7"/>
<circle cx="210.4" cy="478.6" r="7"/>
<line x1="85" y1="497.6" x2="274" y2="497.6"/>
<line x1="277" y1="497.6" x2="323" y2="497.6" stroke-width="1.8"/>
<line x1="323" y1="497.6" x2="347" y2="497.6"/>
<line x1="147.4" y1="478.6" x2="147.4" y2="529.5"/>
<line x1="210.4" y1="478.6" x2="210.4" y2="529.5"/>
<line x1="218" y1="478.6" x2="303" y2="478.6"/>
<line x1="147.4" y1="526.4" x2="210.4" y2="526.4"/>
<path d="M147.4,526.4 L152.9,525.1 L152.9,527.7Z" fill="#000" stroke="none"/>
<path d="M210.4,526.4 L204.9,527.7 L204.9,525.1Z" fill="#000" stroke="none"/>
<g transform="translate(179,524) rotate(0) translate(-13.07,-10.8) scale(1.08,1.08)" stroke-width="1.05" stroke="#111" fill="none" class="t"><path transform="translate(0,0)" d="M4.8,0 H0.9 L0.4,4.6 C0.9,4.1 1.7,3.8 2.5,3.8 C4.2,3.8 5.1,5.2 5.1,6.9 C5.1,8.8 4,10 2.5,10 C1.4,10 0.6,9.6 0,8.7"/><path transform="translate(8,0)" d="M0.1,9.6 L0.5,9.6"/><path transform="translate(11.2,0)" d="M2.5,0 C0.5,0 0,2.6 0,5 C0,7.4 0.5,10 2.5,10 C4.5,10 5,7.4 5,5 C5,2.6 4.5,0 2.5,0Z"/><path transform="translate(19.2,0)" d="M2.5,0 C0.5,0 0,2.6 0,5 C0,7.4 0.5,10 2.5,10 C4.5,10 5,7.4 5,5 C5,2.6 4.5,0 2.5,0Z"/></g>
<line x1="79.4" y1="494.4" x2="167" y2="474.4"/>
<g transform="translate(79.84,491.84) rotate(-12.86) translate(0,-10.5) scale(1.05,1.05)" stroke-width="1.05" stroke="#111" fill="none" class="t"><path transform="translate(0,0)" d="M0.1,2.3 C0.4,0.8 1.3,0 2.6,0 C4.1,0 5,1.1 5,2.6 C5,4.3 3.9,5.6 0,10 H5.2"/><path transform="translate(8,0)" d="M0.3,6.2 H4.6"/><path transform="translate(16,0)" d="M3,2.5 C1.2,2.5 0.2,4 0.2,5.9 C0.2,7.8 1.2,9.2 3,9.2 C4.8,9.2 5.8,7.8 5.8,5.9 C5.8,4 4.8,2.5 3,2.5Z M4.6,1 L1.4,10.8"/><path transform="translate(24.6,0)" d="M0,2.3 L2.7,0 V10"/><path transform="translate(30.6,0)" d="M0.1,9.6 L0.5,9.6"/><path transform="translate(33.8,0)" d="M0,2.3 L2.7,0 V10"/><path transform="translate(39.8,0)" d="M4.8,0 H0.9 L0.4,4.6 C0.9,4.1 1.7,3.8 2.5,3.8 C4.2,3.8 5.1,5.2 5.1,6.9 C5.1,8.8 4,10 2.5,10 C1.4,10 0.6,9.6 0,8.7"/></g>
<line x1="298" y1="359" x2="257.4" y2="486"/>
<g transform="translate(279.05,410.4) rotate(-72.27) translate(0,-10.6) scale(1.06,1.06)" stroke-width="1.05" stroke="#111" fill="none" class="t"><path transform="translate(0,0)" d="M0.1,2.3 C0.4,0.8 1.3,0 2.6,0 C4.1,0 5,1.1 5,2.6 C5,4.3 3.9,5.6 0,10 H5.2"/><path transform="translate(8,0)" d="M0.3,6.2 H4.6"/><path transform="translate(16,0)" d="M3,2.5 C1.2,2.5 0.2,4 0.2,5.9 C0.2,7.8 1.2,9.2 3,9.2 C4.8,9.2 5.8,7.8 5.8,5.9 C5.8,4 4.8,2.5 3,2.5Z M4.6,1 L1.4,10.8"/><path transform="translate(24.6,0)" d="M0.1,2.3 C0.4,0.8 1.3,0 2.6,0 C4.1,0 5,1.1 5,2.6 C5,4.3 3.9,5.6 0,10 H5.2"/><path transform="translate(32.6,0)" d="M0.1,9.6 L0.5,9.6"/><path transform="translate(35.8,0)" d="M2.5,0 C0.5,0 0,2.6 0,5 C0,7.4 0.5,10 2.5,10 C4.5,10 5,7.4 5,5 C5,2.6 4.5,0 2.5,0Z"/><path transform="translate(43.8,0)" d="M2.5,0 C0.5,0 0,2.6 0,5 C0,7.4 0.5,10 2.5,10 C4.5,10 5,7.4 5,5 C5,2.6 4.5,0 2.5,0Z"/></g>
<line x1="342.4" y1="414.5" x2="342.4" y2="497.6"/>
<path d="M342.4,414.5 L343.7,420 L341.1,420Z" fill="#000" stroke="none"/>
<path d="M342.4,497.6 L341.1,492.1 L343.7,492.1Z" fill="#000" stroke="none"/>
<g transform="translate(341.2,469) rotate(-90) translate(0,-11) scale(1.1,1.1)" stroke-width="1.05" stroke="#111" fill="none" class="t"><path transform="translate(0,0)" d="M4.7,1.1 C4.2,0.3 3.5,0 2.7,0 C0.8,0 0,2.4 0,5.4 C0,8.6 0.9,10 2.5,10 C4.2,10 5,8.6 5,7 C5,5.3 4.1,4.2 2.6,4.2 C1.2,4.2 0.3,5.1 0,6.4"/><path transform="translate(8,0)" d="M0.1,9.6 L0.5,9.6"/><path transform="translate(11.2,0)" d="M4.7,1.1 C4.2,0.3 3.5,0 2.7,0 C0.8,0 0,2.4 0,5.4 C0,8.6 0.9,10 2.5,10 C4.2,10 5,8.6 5,7 C5,5.3 4.1,4.2 2.6,4.2 C1.2,4.2 0.3,5.1 0,6.4"/><path transform="translate(19.2,0)" d="M2.5,0 C0.5,0 0,2.6 0,5 C0,7.4 0.5,10 2.5,10 C4.5,10 5,7.4 5,5 C5,2.6 4.5,0 2.5,0Z"/></g>
<line x1="319.4" y1="435.7" x2="319.4" y2="497.6"/>
<path d="M319.4,435.7 L320.7,441.2 L318.1,441.2Z" fill="#000" stroke="none"/>
<path d="M319.4,497.6 L318.1,492.1 L320.7,492.1Z" fill="#000" stroke="none"/>
<g transform="translate(317.2,479.6) rotate(-90) translate(0,-11) scale(1.1,1.1)" stroke-width="1.05" stroke="#111" fill="none" class="t"><path transform="translate(0,0)" d="M3.6,0 L0,7.2 H5.8 M4.3,4.6 V10"/><path transform="translate(8,0)" d="M0.1,9.6 L0.5,9.6"/><path transform="translate(11.2,0)" d="M0.3,8.9 C0.8,9.7 1.5,10 2.3,10 C4.2,10 5,7.6 5,4.6 C5,1.4 4.1,0 2.5,0 C0.8,0 0,1.4 0,3 C0,4.7 0.9,5.8 2.4,5.8 C3.8,5.8 4.7,4.9 5,3.6"/><path transform="translate(19.2,0)" d="M4.8,0 H0.9 L0.4,4.6 C0.9,4.1 1.7,3.8 2.5,3.8 C4.2,3.8 5.1,5.2 5.1,6.9 C5.1,8.8 4,10 2.5,10 C1.4,10 0.6,9.6 0,8.7"/></g>
<line x1="299" y1="478.6" x2="299" y2="530"/>
<path d="M299,478.6 L300.3,484.1 L297.7,484.1Z" fill="#000" stroke="none"/>
<path d="M299,497.6 L297.7,492.1 L300.3,492.1Z" fill="#000" stroke="none"/>
<g transform="translate(297.4,528.4) rotate(-90) translate(0,-10.6) scale(1.06,1.06)" stroke-width="1.05" stroke="#111" fill="none" class="t"><path transform="translate(0,0)" d="M0,2.3 L2.7,0 V10"/><path transform="translate(6,0)" d="M0.1,9.6 L0.5,9.6"/><path transform="translate(9.2,0)" d="M4.8,0 H0.9 L0.4,4.6 C0.9,4.1 1.7,3.8 2.5,3.8 C4.2,3.8 5.1,5.2 5.1,6.9 C5.1,8.8 4,10 2.5,10 C1.4,10 0.6,9.6 0,8.7"/><path transform="translate(17.2,0)" d="M2.5,0 C0.5,0 0,2.6 0,5 C0,7.4 0.5,10 2.5,10 C4.5,10 5,7.4 5,5 C5,2.6 4.5,0 2.5,0Z"/></g>
<line x1="514.5" y1="313.1" x2="641" y2="313.1"/>
<line x1="539" y1="313.1" x2="616.5" y2="313.1" stroke-width="1.6"/>
<line x1="512.6" y1="315.3" x2="642.9" y2="315.3" stroke-width="0.8"/>
<line x1="512.6" y1="318.2" x2="642.9" y2="318.2"/>
<line x1="512.6" y1="335" x2="642.9" y2="335"/>
<line x1="512.6" y1="340.6" x2="642.9" y2="340.6"/>
<line x1="507.9" y1="322.9" x2="647.6" y2="322.9" stroke-width="1.4"/>
<line x1="507.9" y1="330.3" x2="647.6" y2="330.3"/>
<path d="M514.5,313.1 Q512.6,313.1 512.6,315 V318.2 L507.9,322.9 V330.3 L512.6,335 V340.6"/>
<line x1="530.3" y1="313.1" x2="530.3" y2="340.6"/>
<line x1="516.6" y1="340.6" x2="516.6" y2="355.1"/>
<line x1="522.4" y1="340.6" x2="522.4" y2="355.1"/>
<path d="M522.4,355.1 L472.6,355.1 L466,361.6 L466,399 L472.6,405.2"/>
<path d="M641,313.1 Q642.9,313.1 642.9,315 V318.2 L647.6,322.9 V330.3 L642.9,335 V340.6"/>
<line x1="625.2" y1="313.1" x2="625.2" y2="340.6"/>
<line x1="638.9" y1="340.6" x2="638.9" y2="355.1"/>
<line x1="633.1" y1="340.6" x2="633.1" y2="355.1"/>
<path d="M633.1,355.1 L682.9,355.1 L689.5,361.6 L689.5,399 L682.9,405.2"/>
<line x1="472.6" y1="405.2" x2="682.9" y2="405.2" stroke-width="1.3"/>
<circle cx="491.4" cy="380" r="12.7"/>
<circle cx="664.1" cy="380" r="12.7"/>
<circle cx="545.9" cy="362.8" r="15.6" stroke-width="2" stroke="#333"/>
<circle cx="545.9" cy="362.8" r="6.5"/>
<circle cx="545.9" cy="362.8" r="4.3"/>
<circle cx="609.3" cy="362.8" r="15.6" stroke-width="2" stroke="#333"/>
<circle cx="609.3" cy="362.8" r="6.5"/>
<circle cx="609.3" cy="362.8" r="4.3"/>
<line x1="541.8" y1="370.2" x2="549" y2="358.8"/>
<line x1="551" y1="355.6" x2="556.2" y2="347.1"/>
<rect x="568.2" y="380.4" width="18.9" height="19.3"/>
<path d="M571.3,397.5 L576.6,382.6 H578.6 L583.9,397.5 M573.9,397.5 L577.6,386.5 L581.3,397.5 M574.6,392.2 H580.6 M575.2,390.4 H580" stroke-width="0.9"/>
<rect x="539.2" y="405.2" width="7.7" height="15.3"/>
<line x1="539.2" y1="411.8" x2="546.9" y2="411.8"/>
<line x1="539.2" y1="420" x2="546.9" y2="420" stroke-width="1.5"/>
<path d="M536.2,405.5 V407.8 H549.9 V405.5"/>
<rect x="555.2" y="405.2" width="6.6" height="15.3"/>
<line x1="555.2" y1="411.8" x2="561.8" y2="411.8"/>
<line x1="555.2" y1="420" x2="561.8" y2="420" stroke-width="1.5"/>
<rect x="593.2" y="405.2" width="7.4" height="15.3"/>
<line x1="593.2" y1="411.8" x2="600.6" y2="411.8"/>
<line x1="593.2" y1="420" x2="600.6" y2="420" stroke-width="1.5"/>
<path d="M590.2,405.5 V407.8 H603.6 V405.5"/>
<rect x="608.6" y="405.2" width="7" height="15.3"/>
<line x1="608.6" y1="411.8" x2="615.6" y2="411.8"/>
<line x1="608.6" y1="420" x2="615.6" y2="420" stroke-width="1.5"/>
<line x1="545.9" y1="292" x2="545.9" y2="357"/>
<line x1="609.3" y1="292" x2="609.3" y2="357"/>
<line x1="545.9" y1="295.5" x2="609.3" y2="295.5"/>
<path d="M545.9,295.5 L551.4,294.2 L551.4,296.8Z" fill="#000" stroke="none"/>
<path d="M609.3,295.5 L603.8,296.8 L603.8,294.2Z" fill="#000" stroke="none"/>
<g transform="translate(577.6,293) rotate(0) translate(-12.34,-10.2) scale(1.02,1.02)" stroke-width="1.05" stroke="#111" fill="none" class="t"><path transform="translate(0,0)" d="M4.8,0 H0.9 L0.4,4.6 C0.9,4.1 1.7,3.8 2.5,3.8 C4.2,3.8 5.1,5.2 5.1,6.9 C5.1,8.8 4,10 2.5,10 C1.4,10 0.6,9.6 0,8.7"/><path transform="translate(8,0)" d="M0.1,9.6 L0.5,9.6"/><path transform="translate(11.2,0)" d="M2.5,0 C0.5,0 0,2.6 0,5 C0,7.4 0.5,10 2.5,10 C4.5,10 5,7.4 5,5 C5,2.6 4.5,0 2.5,0Z"/><path transform="translate(19.2,0)" d="M2.5,0 C0.5,0 0,2.6 0,5 C0,7.4 0.5,10 2.5,10 C4.5,10 5,7.4 5,5 C5,2.6 4.5,0 2.5,0Z"/></g>
<line x1="644" y1="313.4" x2="723" y2="313.4"/>
<line x1="609.3" y1="362.8" x2="723" y2="362.8"/>
<line x1="719" y1="313.4" x2="719" y2="362.8"/>
<path d="M719,313.4 L720.3,318.9 L717.7,318.9Z" fill="#000" stroke="none"/>
<path d="M719,362.8 L717.7,357.3 L720.3,357.3Z" fill="#000" stroke="none"/>
<g transform="translate(717,351) rotate(-90) translate(0,-11.2) scale(1.12,1.12)" stroke-width="1.05" stroke="#111" fill="none" class="t"><path transform="translate(0,0)" d="M0.1,1.3 C0.6,0.4 1.5,0 2.5,0 C4,0 4.8,1.1 4.8,2.5 C4.8,4 3.9,4.9 2.1,4.9 C4.1,4.9 5.1,6 5.1,7.4 C5.1,9 4,10 2.5,10 C1.4,10 0.6,9.6 0,8.7"/><path transform="translate(8,0)" d="M0.1,9.6 L0.5,9.6"/><path transform="translate(11.2,0)" d="M0.3,8.9 C0.8,9.7 1.5,10 2.3,10 C4.2,10 5,7.6 5,4.6 C5,1.4 4.1,0 2.5,0 C0.8,0 0,1.4 0,3 C0,4.7 0.9,5.8 2.4,5.8 C3.8,5.8 4.7,4.9 5,3.6"/><path transform="translate(19.2,0)" d="M0,0 H5 L1.8,10"/></g>
<line x1="426" y1="362.8" x2="545.9" y2="362.8"/>
<line x1="426" y1="405.2" x2="451" y2="405.2"/>
<line x1="430.4" y1="362.8" x2="430.4" y2="405.2"/>
<path d="M430.4,362.8 L431.7,368.3 L429.1,368.3Z" fill="#000" stroke="none"/>
<path d="M430.4,405.2 L429.1,399.7 L431.7,399.7Z" fill="#000" stroke="none"/>
<g transform="translate(429,397) rotate(-90) translate(0,-11.2) scale(1.12,1.12)" stroke-width="1.05" stroke="#111" fill="none" class="t"><path transform="translate(0,0)" d="M0.1,1.3 C0.6,0.4 1.5,0 2.5,0 C4,0 4.8,1.1 4.8,2.5 C4.8,4 3.9,4.9 2.1,4.9 C4.1,4.9 5.1,6 5.1,7.4 C5.1,9 4,10 2.5,10 C1.4,10 0.6,9.6 0,8.7"/><path transform="translate(8,0)" d="M0.1,9.6 L0.5,9.6"/><path transform="translate(11.2,0)" d="M0.1,1.3 C0.6,0.4 1.5,0 2.5,0 C4,0 4.8,1.1 4.8,2.5 C4.8,4 3.9,4.9 2.1,4.9 C4.1,4.9 5.1,6 5.1,7.4 C5.1,9 4,10 2.5,10 C1.4,10 0.6,9.6 0,8.7"/><path transform="translate(19.2,0)" d="M0.1,1.3 C0.6,0.4 1.5,0 2.5,0 C4,0 4.8,1.1 4.8,2.5 C4.8,4 3.9,4.9 2.1,4.9 C4.1,4.9 5.1,6 5.1,7.4 C5.1,9 4,10 2.5,10 C1.4,10 0.6,9.6 0,8.7"/></g>
<line x1="541.8" y1="370.2" x2="486" y2="462"/>
<path d="M553.6,351.4 L552.24,355.85 L550.2,354.58Z" fill="#000" stroke="none"/>
<g transform="translate(484.73,459.47) rotate(-58.71) translate(0,-10.4) scale(1.04,1.04)" stroke-width="1.05" stroke="#111" fill="none" class="t"><path transform="translate(0,0)" d="M0.1,2.3 C0.4,0.8 1.3,0 2.6,0 C4.1,0 5,1.1 5,2.6 C5,4.3 3.9,5.6 0,10 H5.2"/><path transform="translate(8,0)" d="M0.3,6.2 H4.6"/><path transform="translate(16,0)" d="M3,2.5 C1.2,2.5 0.2,4 0.2,5.9 C0.2,7.8 1.2,9.2 3,9.2 C4.8,9.2 5.8,7.8 5.8,5.9 C5.8,4 4.8,2.5 3,2.5Z M4.6,1 L1.4,10.8"/><path transform="translate(24.6,0)" d="M0,2.3 L2.7,0 V10"/><path transform="translate(30.6,0)" d="M0.1,9.6 L0.5,9.6"/><path transform="translate(33.8,0)" d="M2.5,0 C0.5,0 0,2.6 0,5 C0,7.4 0.5,10 2.5,10 C4.5,10 5,7.4 5,5 C5,2.6 4.5,0 2.5,0Z"/><path transform="translate(41.8,0)" d="M2.5,0 C0.5,0 0,2.6 0,5 C0,7.4 0.5,10 2.5,10 C4.5,10 5,7.4 5,5 C5,2.6 4.5,0 2.5,0Z"/></g>
<path d="M111.2,625.4 H120 Q125.6,625.4 125.6,631 V675 Q125.6,680 120,680 H111.2"/>
<path d="M110,619 Q114,630 113,642 Q111,655 111,667 Q112,678 113,684" stroke-dasharray="7,2,1.5,2" stroke-width="0.9"/>
<line x1="125.6" y1="638.6" x2="207.5" y2="638.6"/>
<line x1="125.6" y1="653.6" x2="207.5" y2="653.6"/>
<line x1="125.6" y1="668.6" x2="207.5" y2="668.6"/>
<line x1="207.5" y1="638.6" x2="207.5" y2="670"/>
<line x1="207.5" y1="672.5" x2="207.5" y2="752"/>
<line x1="125.6" y1="680" x2="125.6" y2="752"/>
<path d="M149.6,621.1 V589.2 H177.6 V618.3 L174.1,621.1 H170.5"/>
<line x1="149.6" y1="621.1" x2="157.5" y2="621.1"/>
<path d="M149.6,626 L152.6,623 M154.5,625 L159.8,619.2 H167.5 L172.7,623.4 H177.3 V626.4"/>
<path d="M149.6,683 L152.6,686 M154.5,684.5 L159.8,688.4 H167.5 L172.7,684.5"/>
<line x1="149.6" y1="623.5" x2="149.6" y2="686"/>
<line x1="151.4" y1="623.5" x2="151.4" y2="686"/>
<line x1="154.5" y1="624" x2="154.5" y2="686"/>
<line x1="159.8" y1="621" x2="159.8" y2="686"/>
<line x1="167.5" y1="621" x2="167.5" y2="686"/>
<line x1="172.7" y1="624" x2="172.7" y2="686"/>
<line x1="177.3" y1="624" x2="177.3" y2="686"/>
<line x1="149.6" y1="642.2" x2="177.3" y2="642.2" stroke-width="1.3"/>
<line x1="149.6" y1="665.6" x2="177.3" y2="665.6" stroke-width="1.3"/>
<path d="M149.6,718 V685.4 H157.8 L160.2,688.4 H167.4 L170,685.4 H177.3 V718 Z"/>
<line x1="177.3" y1="626.4" x2="242.4" y2="626.4"/>
<line x1="177.3" y1="630.3" x2="242.4" y2="630.3"/>
<line x1="242.4" y1="626.4" x2="242.4" y2="656.8"/>
<line x1="177.3" y1="630.3" x2="177.3" y2="685.4"/>
<line x1="177.3" y1="677" x2="191.6" y2="677"/>
<path d="M191.6,681.7 V656.8 H242.4"/>
<path d="M191.6,656.8 L197.1,662.7 H235.5 L242.4,656.8"/>
<line x1="197.1" y1="662.7" x2="197.1" y2="681.7"/>
<line x1="235.5" y1="662.7" x2="235.5" y2="681.7"/>
<path d="M242.4,656 V677 Q242.4,681.4 246.5,681.4 H257"/>
<path d="M244.6,656.5 V674 Q244.6,679.2 249,679.2 H255.5 L257,681.4" stroke-width="0.9"/>
<line x1="249" y1="680.3" x2="256" y2="680.3" stroke-width="1.8" stroke="#777"/>
<defs><clipPath id="pcbc"><rect x="179.6" y="681.7" width="101" height="11.9"/></clipPath></defs>
<g clip-path="url(#pcbc)" stroke-width="1"><line x1="172" y1="694" x2="184.4" y2="681.5"/><line x1="177.3" y1="694" x2="189.7" y2="681.5"/><line x1="182.6" y1="694" x2="195" y2="681.5"/><line x1="187.9" y1="694" x2="200.3" y2="681.5"/><line x1="193.2" y1="694" x2="205.6" y2="681.5"/><line x1="198.5" y1="694" x2="210.9" y2="681.5"/><line x1="203.8" y1="694" x2="216.2" y2="681.5"/><line x1="209.1" y1="694" x2="221.5" y2="681.5"/><line x1="214.4" y1="694" x2="226.8" y2="681.5"/><line x1="219.7" y1="694" x2="232.1" y2="681.5"/><line x1="225" y1="694" x2="237.4" y2="681.5"/><line x1="230.3" y1="694" x2="242.7" y2="681.5"/><line x1="235.6" y1="694" x2="248" y2="681.5"/><line x1="240.9" y1="694" x2="253.3" y2="681.5"/><line x1="246.2" y1="694" x2="258.6" y2="681.5"/><line x1="251.5" y1="694" x2="263.9" y2="681.5"/><line x1="256.8" y1="694" x2="269.2" y2="681.5"/><line x1="262.1" y1="694" x2="274.5" y2="681.5"/><line x1="267.4" y1="694" x2="279.8" y2="681.5"/><line x1="272.7" y1="694" x2="285.1" y2="681.5"/><line x1="278" y1="694" x2="290.4" y2="681.5"/><line x1="283.3" y1="694" x2="295.7" y2="681.5"/></g>
<rect x="179.6" y="681.7" width="101" height="11.9"/>
<path d="M193.2,681.7 V687.6 Q193.2,690.6 196.5,690.6 H207.5"/>
<line x1="149.6" y1="718" x2="149.6" y2="735.5"/>
<line x1="149.6" y1="733" x2="207.5" y2="733"/>
<path d="M149.6,733 L155.1,731.7 L155.1,734.3Z" fill="#000" stroke="none"/>
<path d="M207.5,733 L202,734.3 L202,731.7Z" fill="#000" stroke="none"/>
<g transform="translate(178.5,730.8) rotate(0) translate(-14.75,-10.6) scale(1.22,1.06)" stroke-width="1.05" stroke="#111" fill="none" class="t"><path transform="translate(0,0)" d="M3.6,0 L0,7.2 H5.8 M4.3,4.6 V10"/><path transform="translate(8,0)" d="M0.1,9.6 L0.5,9.6"/><path transform="translate(11.2,0)" d="M4.8,0 H0.9 L0.4,4.6 C0.9,4.1 1.7,3.8 2.5,3.8 C4.2,3.8 5.1,5.2 5.1,6.9 C5.1,8.8 4,10 2.5,10 C1.4,10 0.6,9.6 0,8.7"/><path transform="translate(19.2,0)" d="M4.8,0 H0.9 L0.4,4.6 C0.9,4.1 1.7,3.8 2.5,3.8 C4.2,3.8 5.1,5.2 5.1,6.9 C5.1,8.8 4,10 2.5,10 C1.4,10 0.6,9.6 0,8.7"/></g>
<line x1="125.6" y1="750" x2="207.5" y2="750"/>
<path d="M125.6,750 L131.1,748.7 L131.1,751.3Z" fill="#000" stroke="none"/>
<path d="M207.5,750 L202,751.3 L202,748.7Z" fill="#000" stroke="none"/>
<g transform="translate(166.3,748) rotate(0) translate(-14.75,-10.6) scale(1.22,1.06)" stroke-width="1.05" stroke="#111" fill="none" class="t"><path transform="translate(0,0)" d="M4.7,1.1 C4.2,0.3 3.5,0 2.7,0 C0.8,0 0,2.4 0,5.4 C0,8.6 0.9,10 2.5,10 C4.2,10 5,8.6 5,7 C5,5.3 4.1,4.2 2.6,4.2 C1.2,4.2 0.3,5.1 0,6.4"/><path transform="translate(8,0)" d="M0.1,9.6 L0.5,9.6"/><path transform="translate(11.2,0)" d="M4.8,0 H0.9 L0.4,4.6 C0.9,4.1 1.7,3.8 2.5,3.8 C4.2,3.8 5.1,5.2 5.1,6.9 C5.1,8.8 4,10 2.5,10 C1.4,10 0.6,9.6 0,8.7"/><path transform="translate(19.2,0)" d="M2.5,0 C0.5,0 0,2.6 0,5 C0,7.4 0.5,10 2.5,10 C4.5,10 5,7.4 5,5 C5,2.6 4.5,0 2.5,0Z"/></g>
<g transform="translate(47.6,654.8) rotate(0) translate(0,-10.2) scale(1.12,1.02)" stroke-width="1.05" stroke="#111" fill="none" class="t"><path transform="translate(0,0)" d="M0,0 H5.8 M2.9,0 V10"/><path transform="translate(8,0)" d="M0,0 L2.9,5 L5.8,0 M2.9,5 V10"/><path transform="translate(16,0)" d="M0,10 V0 H3.1 C4.6,0 5.3,1.2 5.3,2.7 C5.3,4.2 4.6,5.4 3.1,5.4 H0"/><path transform="translate(24,0)" d="M5.3,0 H0 V10 H5.3 M0,4.9 H4.2"/><path transform="translate(42.6,0)" d="M5.4,1.6 C4.9,0.5 4,0 2.9,0 C0.9,0 0,2.4 0,5 C0,7.6 0.9,10 2.9,10 C4,10 4.9,9.5 5.4,8.4"/></g>
<g transform="translate(287.3,689.8) rotate(0) translate(0,-9.8) scale(1.37,0.98)" stroke-width="1.05" stroke="#111" fill="none" class="t"><path transform="translate(0,0)" d="M0,10 V0 H3.1 C4.6,0 5.3,1.2 5.3,2.7 C5.3,4.2 4.6,5.4 3.1,5.4 H0"/><path transform="translate(7.04,0)" d="M5.4,1.6 C4.9,0.5 4,0 2.9,0 C0.9,0 0,2.4 0,5 C0,7.6 0.9,10 2.9,10 C4,10 4.9,9.5 5.4,8.4"/><path transform="translate(14.08,0)" d="M0,10 V0 H3 C4.4,0 5,1.1 5,2.5 C5,3.9 4.4,4.8 3,4.8 H0 M3,4.8 C4.6,4.8 5.3,5.9 5.3,7.4 C5.3,9 4.5,10 3,10 H0"/></g>
<g class="t" stroke="#111" stroke-width="1.5" fill="none"><path transform="translate(254.2,631.8) scale(0.62,0.93)" d="M1,0.5 H3.2 L2.2,3 L3.3,5.2 Q3.3,7.2 1.8,6.8 M1,0.5 V10 M6.8,0 L7.2,1.4 M4.2,2 H10 M5.6,2 V5.5 Q5.5,8.8 3.8,10 M5.6,4.6 H9.2 V9 Q9.1,10 7.6,9.6"/><path transform="translate(260.95,631.8) scale(0.62,0.93)" d="M5,0 V9.3 Q5,10 3.8,9.5 M0.8,3 H3.6 L0.4,8.6 M9.4,2 L6,5.2 M6,4.8 L10,9.6"/><path transform="translate(267.7,631.8) scale(0.62,0.93)" d="M2,1 H8.4 L7.8,9 Q7.6,10 6,9.6 M2,1 L1,8.2 M0,5 H10 M4,2.6 L5.6,4 M3.8,6.4 L5.4,7.8 M1,8.2 H9.2"/><path transform="translate(274.45,631.8) scale(0.62,0.93)" d="M5,0 L5.6,1.2 M1,1.6 H10 M1.6,1.6 V6 Q1.6,9 0,10 M3.6,3.4 L3,6 M7.4,3.4 L8,6 M5.6,3 V9.6 M3,6.6 H8.2 M2.4,9.6 H9.8"/></g>
<g class="t" stroke="#111" stroke-width="1" fill="none"><path transform="translate(114.2,646.2) scale(0.54,0.9)" d="M3.2,0.5 L0.4,5 M6,0.5 L9.8,5 M4.2,4.6 L1.6,9.4 H8.4 M6.6,7.2 L9,10"/><path transform="translate(121.2,646.2) scale(0.54,0.9)" d="M2.6,0.8 L4.2,2.4 M2.2,3.4 L3.8,5 M6,0 V5 Q6,8.2 1.6,10 M0.8,5.6 H9.6 M6.4,7.4 L9.6,10"/></g>
<g class="t" stroke="#111" stroke-width="1.4" fill="none"><path transform="translate(316.4,681.2) scale(0.68,0.95)" d="M2.5,0 V10 M0.4,3 H4.6 M2.5,3.4 L0.4,8 M2.6,4 L4.4,6 M5.4,1.4 H9.6 M5.8,1.4 V5 Q5.8,8.6 4.4,10 M6,4.4 H9 Q8.4,8 5.6,10 M6.6,6 L10,10"/></g>
<g class="t" stroke="#111" stroke-width="1.3" fill="none"><path transform="translate(152.2,755.2) scale(0.48,0.72)" d="M2.6,0 L0.6,4 H3.6 L0.8,8 L4,7.4 M0.4,10 L4,9 M5.6,0.8 H9 V9.6 M5.6,0.8 V9.6 M5.6,3.8 H9 M5.6,6.6 H9 M4.6,9.6 H10"/><path transform="translate(157.4,755.2) scale(0.48,0.72)" d="M2,0 V4.2 M0.4,1.6 H3.6 M0.4,3.6 L3.6,2.6 M5,1.2 H9.6 M7.2,0 V4 M5.6,4 H9 M0.6,5.6 H9.4 M5,4.6 L4,7 M1.6,8 L5,6.6 L9.4,10 M1.6,10 L5.6,8.2"/><path transform="translate(162.6,755.2) scale(0.48,0.72)" d="M2,1 H8 M0.4,4 H9.6 M5,4 V9.4 Q5,10 3.8,9.6 M2.6,6 L1,9 M7.4,6 L9,9"/><path transform="translate(167.8,755.2) scale(0.48,0.72)" d="M5,0 V1 M1.4,1 H8.6 M3,1.4 L3.6,2.8 M7,1.4 L6.4,2.8 M0.4,3 H9.6 M2.6,4 H7.4 V7 H2.6 Z M2.6,5.5 H7.4 M1,8 L0.4,9.6 M3,8 V9.4 Q3,10 5,10 M5.2,8 L6,9 M8,8 L9.2,9.6"/><path transform="translate(173,755.2) scale(0.48,0.72)" d="M0.5,0.5 H9.5 V10 H0.5 Z M4,2 L2.4,4.2 M4,2 H7 L3,7 M4,4 L7.6,7 M4,8 L6,9"/></g>
<path d="M517.2,561 L519.6,558.8 H523.8 L527.4,554.2 H535.8 L540,559.2 H544.2"/>
<path d="M517.2,616.8 L519.6,618.6 H523.8 L527.4,623.6 H535.8 L540,618.6 H544.2"/>
<line x1="517.2" y1="561" x2="517.2" y2="616.8"/>
<line x1="519.6" y1="558.8" x2="519.6" y2="618.6"/>
<line x1="523.8" y1="558.8" x2="523.8" y2="618.6"/>
<line x1="527.4" y1="554.2" x2="527.4" y2="623.6"/>
<line x1="535.8" y1="554.2" x2="535.8" y2="623.6"/>
<line x1="540" y1="559.2" x2="540" y2="618.6"/>
<line x1="544.2" y1="559.2" x2="544.2" y2="618.6"/>
<line x1="517.2" y1="577.4" x2="544.2" y2="577.4" stroke-width="1.3"/>
<line x1="517.2" y1="600.5" x2="544.2" y2="600.5" stroke-width="1.3"/>
<line x1="544.2" y1="561.2" x2="609.6" y2="561.2"/>
<line x1="544.2" y1="564.8" x2="609.6" y2="564.8"/>
<line x1="609.6" y1="561.2" x2="609.6" y2="591.4"/>
<line x1="514.2" y1="589.7" x2="617" y2="589.7" stroke-width="1.2"/>
<path d="M517.2,589.7 L514.2,590.9 L514.2,588.5Z" fill="#000" stroke="none"/>
<line x1="544.2" y1="612.4" x2="559.6" y2="612.4"/>
<path d="M559.6,617.2 V591.4 H609.6"/>
<path d="M559.6,591.4 L565.6,598 H603.4 L609.6,591.4"/>
<line x1="565.6" y1="598" x2="565.6" y2="617.2"/>
<line x1="603.4" y1="598" x2="603.4" y2="617.2"/>
<path d="M609.6,591.4 V617.2"/>
<path d="M612.4,591 V608.6 Q612.4,615.6 618,615.6 H623 Q624.6,615.6 624.6,617.2"/>
<line x1="559.6" y1="617.2" x2="648" y2="617.2"/>
<path d="M560.2,617.2 V625 L562.6,627.4 H571 L573.4,625 V617.2"/>
<line x1="561" y1="624.2" x2="572.6" y2="624.2"/>
<line x1="567.4" y1="611.8" x2="567.4" y2="637.6"/>
<line x1="567.4" y1="641.8" x2="567.4" y2="661.6"/>
<line x1="473.4" y1="554.2" x2="523.8" y2="554.2"/>
<line x1="473.4" y1="623.6" x2="523.8" y2="623.6"/>
<line x1="477.4" y1="554.2" x2="477.4" y2="623.6"/>
<path d="M477.4,554.2 L478.7,559.7 L476.1,559.7Z" fill="#000" stroke="none"/>
<path d="M477.4,623.6 L476.1,618.1 L478.7,618.1Z" fill="#000" stroke="none"/>
<g transform="translate(475.4,602) rotate(-90) translate(0,-11.2) scale(1.12,1.12)" stroke-width="1.05" stroke="#111" fill="none" class="t"><path transform="translate(0,0)" d="M4.8,0 H0.9 L0.4,4.6 C0.9,4.1 1.7,3.8 2.5,3.8 C4.2,3.8 5.1,5.2 5.1,6.9 C5.1,8.8 4,10 2.5,10 C1.4,10 0.6,9.6 0,8.7"/><path transform="translate(8,0)" d="M0.1,9.6 L0.5,9.6"/><path transform="translate(11.2,0)" d="M3.6,0 L0,7.2 H5.8 M4.3,4.6 V10"/><path transform="translate(19.2,0)" d="M4.7,1.1 C4.2,0.3 3.5,0 2.7,0 C0.8,0 0,2.4 0,5.4 C0,8.6 0.9,10 2.5,10 C4.2,10 5,8.6 5,7 C5,5.3 4.1,4.2 2.6,4.2 C1.2,4.2 0.3,5.1 0,6.4"/></g>
<line x1="492" y1="558.8" x2="515.4" y2="558.8"/>
<line x1="492" y1="618.5" x2="515.4" y2="618.5"/>
<line x1="496.2" y1="558.8" x2="496.2" y2="618.5"/>
<path d="M496.2,558.8 L497.5,564.3 L494.9,564.3Z" fill="#000" stroke="none"/>
<path d="M496.2,618.5 L494.9,613 L497.5,613Z" fill="#000" stroke="none"/>
<g transform="translate(494,602) rotate(-90) translate(0,-11) scale(1.1,1.1)" stroke-width="1.05" stroke="#111" fill="none" class="t"><path transform="translate(0,0)" d="M3.6,0 L0,7.2 H5.8 M4.3,4.6 V10"/><path transform="translate(8,0)" d="M0.1,9.6 L0.5,9.6"/><path transform="translate(11.2,0)" d="M0,0 H5 L1.8,10"/><path transform="translate(19.2,0)" d="M4.7,1.1 C4.2,0.3 3.5,0 2.7,0 C0.8,0 0,2.4 0,5.4 C0,8.6 0.9,10 2.5,10 C4.2,10 5,8.6 5,7 C5,5.3 4.1,4.2 2.6,4.2 C1.2,4.2 0.3,5.1 0,6.4"/></g>
<line x1="517.2" y1="623.6" x2="517.2" y2="661"/>
<line x1="517.2" y1="658" x2="567.4" y2="658"/>
<path d="M517.2,658 L522.7,656.7 L522.7,659.3Z" fill="#000" stroke="none"/>
<path d="M567.4,658 L561.9,659.3 L561.9,656.7Z" fill="#000" stroke="none"/>
<g transform="translate(542.4,655.6) rotate(0) translate(-12.34,-10.2) scale(1.02,1.02)" stroke-width="1.05" stroke="#111" fill="none" class="t"><path transform="translate(0,0)" d="M0.1,1.3 C0.6,0.4 1.5,0 2.5,0 C4,0 4.8,1.1 4.8,2.5 C4.8,4 3.9,4.9 2.1,4.9 C4.1,4.9 5.1,6 5.1,7.4 C5.1,9 4,10 2.5,10 C1.4,10 0.6,9.6 0,8.7"/><path transform="translate(8,0)" d="M0.1,9.6 L0.5,9.6"/><path transform="translate(11.2,0)" d="M0.3,8.9 C0.8,9.7 1.5,10 2.3,10 C4.2,10 5,7.6 5,4.6 C5,1.4 4.1,0 2.5,0 C0.8,0 0,1.4 0,3 C0,4.7 0.9,5.8 2.4,5.8 C3.8,5.8 4.7,4.9 5,3.6"/><path transform="translate(19.2,0)" d="M0,0 H5 L1.8,10"/></g>
<line x1="585.8" y1="604" x2="585.8" y2="671.8"/>
<path d="M585.8,617.2 L584.5,611.7 L587.1,611.7Z" fill="#000" stroke="none"/>
<path d="M585.8,627.4 L587.1,632.9 L584.5,632.9Z" fill="#000" stroke="none"/>
<line x1="574.6" y1="627.4" x2="589.6" y2="627.4"/>
<g transform="translate(583,670) rotate(-90) translate(0,-10.2) scale(1.02,1.02)" stroke-width="1.05" stroke="#111" fill="none" class="t"><path transform="translate(0,0)" d="M2.5,0 C0.5,0 0,2.6 0,5 C0,7.4 0.5,10 2.5,10 C4.5,10 5,7.4 5,5 C5,2.6 4.5,0 2.5,0Z"/><path transform="translate(8,0)" d="M0.1,9.6 L0.5,9.6"/><path transform="translate(11.2,0)" d="M2.5,4.9 C0.9,4.9 0.3,3.9 0.3,2.5 C0.3,1 1.2,0 2.5,0 C3.8,0 4.7,1 4.7,2.5 C4.7,3.9 4.1,4.9 2.5,4.9 C0.8,4.9 0,6 0,7.4 C0,9 1.1,10 2.5,10 C3.9,10 5,9 5,7.4 C5,6 4.2,4.9 2.5,4.9Z"/><path transform="translate(19.2,0)" d="M2.5,0 C0.5,0 0,2.6 0,5 C0,7.4 0.5,10 2.5,10 C4.5,10 5,7.4 5,5 C5,2.6 4.5,0 2.5,0Z"/></g>
<line x1="609.4" y1="620.2" x2="609.4" y2="652"/>
<line x1="624.4" y1="620.2" x2="624.4" y2="652"/>
<line x1="596.8" y1="647.8" x2="660" y2="647.8"/>
<path d="M609.4,647.8 L603.9,649.1 L603.9,646.5Z" fill="#000" stroke="none"/>
<path d="M624.4,647.8 L629.9,646.5 L629.9,649.1Z" fill="#000" stroke="none"/>
<g transform="translate(638,645) rotate(0) translate(0,-10.2) scale(1.02,1.02)" stroke-width="1.05" stroke="#111" fill="none" class="t"><path transform="translate(0,0)" d="M0,2.3 L2.7,0 V10"/><path transform="translate(6,0)" d="M0.1,9.6 L0.5,9.6"/><path transform="translate(9.2,0)" d="M0,2.3 L2.7,0 V10"/><path transform="translate(15.2,0)" d="M2.5,4.9 C0.9,4.9 0.3,3.9 0.3,2.5 C0.3,1 1.2,0 2.5,0 C3.8,0 4.7,1 4.7,2.5 C4.7,3.9 4.1,4.9 2.5,4.9 C0.8,4.9 0,6 0,7.4 C0,9 1.1,10 2.5,10 C3.9,10 5,9 5,7.4 C5,6 4.2,4.9 2.5,4.9Z"/></g>
<line x1="617" y1="589.7" x2="648" y2="589.7"/>
<line x1="644" y1="557" x2="644" y2="617.2"/>
<path d="M644,589.7 L645.3,595.2 L642.7,595.2Z" fill="#000" stroke="none"/>
<path d="M644,617.2 L642.7,611.7 L645.3,611.7Z" fill="#000" stroke="none"/>
<g transform="translate(642.2,583.2) rotate(-90) translate(0,-10.8) scale(1.08,1.08)" stroke-width="1.05" stroke="#111" fill="none" class="t"><path transform="translate(0,0)" d="M0.1,2.3 C0.4,0.8 1.3,0 2.6,0 C4.1,0 5,1.1 5,2.6 C5,4.3 3.9,5.6 0,10 H5.2"/><path transform="translate(8,0)" d="M0.1,9.6 L0.5,9.6"/><path transform="translate(11.2,0)" d="M2.5,0 C0.5,0 0,2.6 0,5 C0,7.4 0.5,10 2.5,10 C4.5,10 5,7.4 5,5 C5,2.6 4.5,0 2.5,0Z"/><path transform="translate(19.2,0)" d="M2.5,0 C0.5,0 0,2.6 0,5 C0,7.4 0.5,10 2.5,10 C4.5,10 5,7.4 5,5 C5,2.6 4.5,0 2.5,0Z"/></g>
<path d="M507.6,758.4 H599.6 A21,21 0 0 1 620.6,779.4 V801.2 A21,21 0 0 1 599.6,822.2 H507.6 A21,21 0 0 1 486.6,801.2 V779.4 A21,21 0 0 1 507.6,758.4Z"/>
<line x1="457" y1="758.4" x2="506.5" y2="758.4"/>
<line x1="458" y1="822.2" x2="506.5" y2="822.2"/>
<line x1="486.6" y1="733" x2="486.6" y2="780"/>
<line x1="620.6" y1="733" x2="620.6" y2="780"/>
<line x1="486.6" y1="735.4" x2="620.6" y2="735.4"/>
<path d="M486.6,735.4 L492.1,734.1 L492.1,736.7Z" fill="#000" stroke="none"/>
<path d="M620.6,735.4 L615.1,736.7 L615.1,734.1Z" fill="#000" stroke="none"/>
<line x1="460" y1="758.4" x2="460" y2="822.2"/>
<path d="M460,758.4 L461.3,763.9 L458.7,763.9Z" fill="#000" stroke="none"/>
<path d="M460,822.2 L458.7,816.7 L461.3,816.7Z" fill="#000" stroke="none"/>
<text transform="translate(520.4,731.7) rotate(0) scale(1.03,1)" font-family="Liberation Sans, sans-serif" font-size="15" fill="#000" stroke="#fff" stroke-width="0.22" letter-spacing="0" text-anchor="start">10.64</text>
<text transform="translate(559.6,729.4) rotate(0) scale(1,1)" font-family="Liberation Sans, sans-serif" font-size="10.5" fill="#000" stroke="#fff" stroke-width="0.1" letter-spacing="0" text-anchor="start">+</text>
<text transform="translate(566.4,724.7) rotate(0) scale(1.06,0.76)" font-family="Liberation Sans, sans-serif" font-size="10.2" fill="#000" stroke="#fff" stroke-width="0.05" letter-spacing="0" text-anchor="start">0.05</text>
<text transform="translate(566.4,732.4) rotate(0) scale(1.06,0.76)" font-family="Liberation Sans, sans-serif" font-size="10.2" fill="#000" stroke="#fff" stroke-width="0.05" letter-spacing="0" text-anchor="start">0.00</text>
<text transform="translate(456.4,818.8) rotate(-90) scale(1.09,1)" font-family="Liberation Sans, sans-serif" font-size="15" fill="#000" stroke="#fff" stroke-width="0.22" letter-spacing="0" text-anchor="start">5.06</text>
<text transform="translate(450.6,786.6) rotate(-90) scale(1,1)" font-family="Liberation Sans, sans-serif" font-size="10.5" fill="#000" stroke="#fff" stroke-width="0.1" letter-spacing="0" text-anchor="start">+</text>
<text transform="translate(449.5,781.4) rotate(-90) scale(1,0.76)" font-family="Liberation Sans, sans-serif" font-size="10.2" fill="#000" stroke="#fff" stroke-width="0.05" letter-spacing="0" text-anchor="start">0.05</text>
<text transform="translate(456.9,781.4) rotate(-90) scale(1,0.76)" font-family="Liberation Sans, sans-serif" font-size="10.2" fill="#000" stroke="#fff" stroke-width="0.05" letter-spacing="0" text-anchor="start">0.00</text>
<line x1="600" y1="801.6" x2="687" y2="866.2"/>
<path d="M621.6,817.3 L628.11,820.27 L626.33,822.68Z" fill="#000" stroke="none"/>
<text transform="translate(635.2,822.6) rotate(36.59) scale(0.94,1)" font-family="Liberation Sans, sans-serif" font-size="14.8" fill="#000" stroke="#fff" stroke-width="0.22" letter-spacing="1.4" text-anchor="start">R1.60</text>
<text transform="translate(675.2,843.6) rotate(36.59) scale(1.08,0.76)" font-family="Liberation Sans, sans-serif" font-size="10.6" fill="#000" stroke="#fff" stroke-width="0.05" letter-spacing="0" text-anchor="start">0.00</text>
<text transform="translate(667.2,850.2) rotate(36.59) scale(1.08,0.76)" font-family="Liberation Sans, sans-serif" font-size="10.6" fill="#000" stroke="#fff" stroke-width="0.05" letter-spacing="0" text-anchor="start">-0.05</text>
<g class="t" stroke="#111" stroke-width="1" fill="none"><path transform="translate(479.4,841.2) scale(0.94,1.8)" d="M1.2,1 H8.8 M0,5.2 H10 M3.5,1 V5.5 Q3.4,8.8 1,10 M6.6,1 V10"/><path transform="translate(489.85,841.2) scale(0.94,1.8)" d="M1,1 H4.6 L3,3 M3,3 V9.4 Q3,10 1.8,9.4 M0.4,5.2 H5 M7,0 V9 Q7,10 8.4,10 H10 V8.4"/><path transform="translate(500.3,841.2) scale(0.94,1.8)" d="M4.2,1.2 H8.4 V4 H4.2 M3.6,2.6 H9.6 M6.2,0 V8.2 M4.2,5.4 H8.8 M4.4,7 H8.2 M0.8,1.2 H3 L1,5 H3 Q3,8 0.8,10 M1.6,8.4 Q4,10 10,10"/><path transform="translate(510.75,841.2) scale(0.94,1.8)" d="M1,0.4 L2,1.6 M0.4,3.6 H2 V8.6 L3.6,7.2 M6.6,0.4 L7.4,2 M4.2,3 Q6,8 10,10 M9.6,3 Q8,8 4,10"/><path transform="translate(521.2,841.2) scale(0.94,1.8)" d="M2,1 H8.6 V4.6 H2 M2,1 V5 Q2,9 0.4,10 M5,4.6 Q7,9 10,10"/><path transform="translate(531.65,841.2) scale(0.94,1.8)" d="M0.4,3.2 H10 M7.4,0 V9.4 Q7.4,10 6,9.5 M2.8,5 L4.6,7.2"/></g>
</svg></body></html>
